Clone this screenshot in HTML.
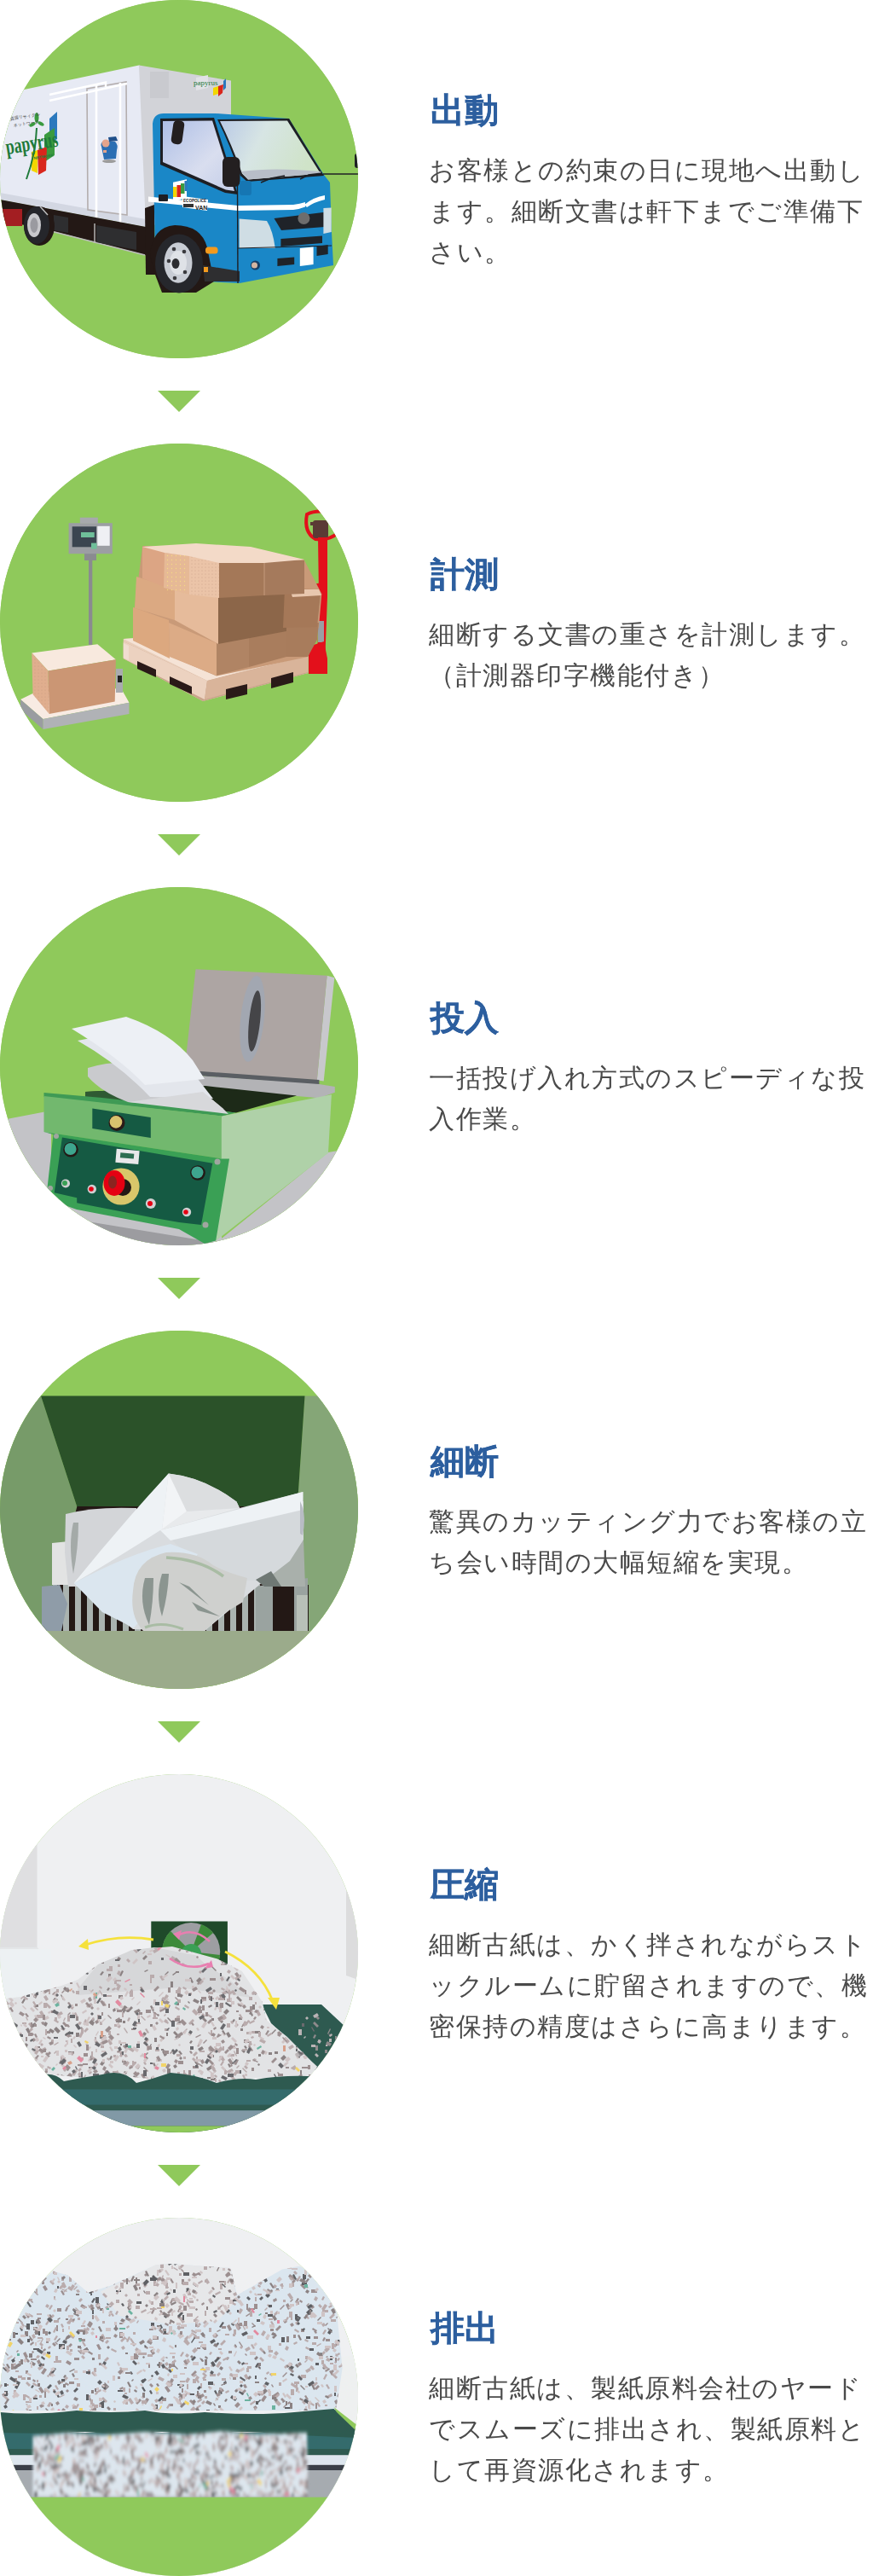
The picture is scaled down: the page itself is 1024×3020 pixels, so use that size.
<!DOCTYPE html>
<html lang="ja"><head><meta charset="utf-8">
<style>
html,body{margin:0;padding:0;background:#fff}
body{width:1024px;height:3020px;position:relative;overflow:hidden;font-family:"Liberation Sans",sans-serif}
.step{position:absolute;left:0;width:1024px;height:420px}
.circ{position:absolute;left:0;top:0;width:420px;height:420px;border-radius:50%;overflow:hidden;background:#8fc95b}
.circ svg{display:block}
.txt{position:absolute;left:505px;top:2px;-webkit-font-smoothing:antialiased;will-change:transform;height:420px;width:519px;display:flex;flex-direction:column;justify-content:center}
.txt h2{margin:0 0 23px;font-size:40px;line-height:48px;color:#2d5f9f;font-weight:bold;-webkit-text-stroke:0.3px #2d5f9f}
.txt p{margin:0 0 0 -2px;font-size:30px;line-height:48px;color:#4a4a4a;letter-spacing:1.5px}
.tri{position:absolute;left:185px;width:0;height:0;border-left:25px solid transparent;border-right:25px solid transparent;border-top:25px solid #8fc95b}
</style></head><body>

<div class="step" style="top:0">
<div class="circ" id="c1"><svg width="420" height="420" viewBox="0 0 420 420">
<defs>
<linearGradient id="ws" x1="0" y1="0" x2="1" y2="0.3"><stop offset="0" stop-color="#b9c9e6"/><stop offset="0.45" stop-color="#d7e5e4"/><stop offset="1" stop-color="#cfe3c8"/></linearGradient>
<linearGradient id="sw" x1="0" y1="0" x2="1" y2="1"><stop offset="0" stop-color="#aebfe6"/><stop offset="0.6" stop-color="#d9deef"/><stop offset="1" stop-color="#c3cde8"/></linearGradient>
</defs>
<rect width="420" height="420" fill="#8fc95b"/>
<!-- cargo side face -->
<polygon points="0,111 163,76.5 171,80 171,266 0,234" fill="#e7eaf4"/>
<polygon points="0,226 171,257 171,266 0,234" fill="#d3d7e2"/>
<!-- cargo front face -->
<polygon points="163,76.5 271,94.5 271,262 171,264" fill="#d2d3d8"/>
<rect x="176" y="84" width="22" height="31" fill="#c9cacf"/>
<!-- door outline + rails -->
<polygon points="102,104 148,96 149,252 103,246" fill="none" stroke="#b4aeae" stroke-width="1.6"/>
<line x1="113" y1="100" x2="113" y2="262" stroke="#fff" stroke-width="2.6"/>
<line x1="141" y1="97" x2="141" y2="266" stroke="#fff" stroke-width="2.6"/>
<polyline points="58,111 124,96.5 124,102" fill="none" stroke="#fff" stroke-width="2.4"/>
<line x1="58" y1="118" x2="149" y2="98" stroke="#fff" stroke-width="2.4"/>
<!-- logo side -->
<polygon points="58,139 67,131 67,163 58,168" fill="#2b78bd"/>
<polygon points="52,158 64,150 64,182 52,190" fill="#3a9a3f"/>
<polygon points="37,178 44,176 44,203 37,200" fill="#f2d600"/>
<polygon points="44,176 55,172 54,200 45,205" fill="#d9261c"/>
<text x="0" y="0" font-family="Liberation Serif,serif" font-size="26" font-weight="bold" fill="#1f7a3a" transform="translate(8 181) rotate(-9) scale(0.68 1)">papyrus</text>
<path d="M43,150 Q42,180 31,210" stroke="#1f7a3a" stroke-width="2" fill="none"/>
<ellipse cx="43" cy="138" rx="2.5" ry="6" fill="#3a9a3f"/>
<ellipse cx="38" cy="146" rx="4" ry="2" fill="#3a9a3f" transform="rotate(-30 38 146)"/>
<ellipse cx="48" cy="145" rx="4" ry="2" fill="#3a9a3f" transform="rotate(30 48 145)"/>
<text x="12" y="141" font-family="Liberation Sans,sans-serif" font-size="5" fill="#3a3a3a" transform="rotate(-9 12 141)">資源リサイクル</text>
<text x="16" y="149" font-family="Liberation Sans,sans-serif" font-size="5" fill="#3a3a3a" transform="rotate(-9 16 149)">ネットワーク</text>
<text x="40" y="187" font-family="Liberation Sans,sans-serif" font-size="4.5" font-weight="bold" fill="#1f7a3a" transform="rotate(-9 40 187)">NETWORK</text>
<!-- mascot -->
<ellipse cx="128" cy="189" rx="8" ry="2" fill="#9c9c9c"/>
<path d="M119,172 Q117,168 122,165 L135,166 Q139,170 137,176 L136,186 L122,187 Z" fill="#2a6eb3"/>
<circle cx="124" cy="168" r="4.5" fill="#e3a48c"/>
<path d="M127,161 L136,160 L138,165 L128,166 Z" fill="#1f4f8a"/>
<rect x="121" y="176" width="4" height="3" fill="#e3a48c"/>
<!-- front logo -->
<polygon points="230,91 244,88 244,103 230,106" fill="#e1e2e6"/>
<text x="227" y="100" font-family="Liberation Serif,serif" font-size="9" fill="#237a3c">papyrus</text>
<polygon points="250,103 256,101 256,110 250,112" fill="#f2d600"/>
<polygon points="256,101 262,99 261,109 256,113" fill="#d9261c"/>
<polygon points="262,95 265,92 265,103 262,106" fill="#2b78bd"/>
<!-- chassis -->
<polygon points="0,234 171,266 171,299 62,271 0,258" fill="#231815"/>
<polyline points="62,271.5 170,299" fill="none" stroke="#bdbdbd" stroke-width="1.4"/>
<line x1="111" y1="262" x2="111" y2="285" stroke="#bdbdbd" stroke-width="1.4"/>
<polygon points="113,264 160,272 160,293 113,284" fill="#2e2e30"/>
<polygon points="63,252 80,255 80,273 63,270" fill="#2e2e30"/>
<rect x="3" y="245" width="23" height="20" fill="#a31e22"/>
<!-- rear wheel -->
<ellipse cx="46" cy="265" rx="18" ry="23" fill="#231815"/>
<ellipse cx="43" cy="264" rx="15" ry="22" fill="#25262b"/>
<ellipse cx="40" cy="264" rx="8" ry="14" fill="#c8c8cc"/>
<ellipse cx="40" cy="264" rx="4.5" ry="9" fill="#9a9aa0"/>
<line x1="47" y1="242" x2="56" y2="252" stroke="#bdbdbd" stroke-width="1.5"/>
<!-- cab left dark strip -->
<polygon points="170,244 181,240 182,322 171,322" fill="#231815"/>
<!-- cab body -->
<path d="M179,145 Q180,133 192,133 L253,133 L339,139 L380,205 L387,214 L389,272 L391,311 L281,332 L240,330 L238,311 L182,300 Z" fill="#1a87c7"/>
<!-- wheel arch -->
<path d="M176,300 Q178,266 205,264 Q236,264 243,290 L251,330 L230,343 L190,343 L182,322 Z" fill="#231815"/>
<!-- step -->
<polygon points="238,311 281,318 281,330 240,330" fill="#2e2e30"/>
<!-- windshield frame & glass -->
<path d="M255,140 L339,139 L380,206 L290,213 L282,206 Q270,170 255,140 Z" fill="#1e1f24"/>
<path d="M258,142 L337,141.5 L376,203.5 L291,210.5 L284,203.5 Q272,170 258,142 Z" fill="url(#ws)"/>
<path d="M283,201 Q320,196 376,201 L377,203.5 L291,210.5 Z" fill="#b8bec8"/>
<!-- side window -->
<polygon points="188,139 251,138 279,228 264,226 188,193" fill="#1e1f24"/>
<polygon points="191,142 249,141.5 275,224 265,222.5 191,190" fill="url(#sw)"/>
<!-- small mirror -->
<rect x="202" y="141" width="13" height="28" rx="5" fill="#231f20" transform="rotate(8 208 155)"/>
<!-- side mirror -->
<rect x="261" y="184" width="20.5" height="35" rx="6" fill="#231f20"/>
<rect x="281" y="212" width="14" height="17" rx="3" fill="#1676b3"/>
<!-- wipers -->
<polyline points="306,214 318,209 334,206" fill="none" stroke="#1e1f24" stroke-width="1.6"/>
<polyline points="352,210 362,205 378,203" fill="none" stroke="#1e1f24" stroke-width="1.6"/>
<!-- white stripe -->
<path d="M174,230.5 L279,241 L344,240 Q352,239 358,237 L358,242.5 Q352,245 344,246 L279,247 L174,236.5 Z" fill="#fff"/>
<path d="M357,240 Q368,231 381,229 L381,234 Q368,237 360,243 Z" fill="#fff"/>
<!-- door logo -->
<rect x="203" y="212" width="16" height="22" fill="#fff" transform="skewY(-12)" transform-origin="211 223"/>
<rect x="203" y="219" width="4.5" height="12" fill="#f2d600"/>
<rect x="207.5" y="217" width="4.5" height="14" fill="#d9261c"/>
<rect x="212" y="215" width="4.5" height="12" fill="#3a9a3f"/>
<rect x="216.5" y="212" width="3" height="12" fill="#2b78bd"/>
<polygon points="214,230 244,234 243,247 214,243" fill="#fff"/>
<text x="215" y="237" font-family="Liberation Sans,sans-serif" font-size="4.6" font-weight="bold" fill="#222">ECOPOLICE</text>
<rect x="215" y="239" width="12" height="4" fill="#333"/>
<text x="229" y="246" font-family="Liberation Sans,sans-serif" font-size="7" font-weight="bold" fill="#222">VAN</text>
<rect x="186" y="228" width="11" height="8" rx="1" fill="#1e1f24"/>
<!-- headlight -->
<path d="M280.6,256.6 L313,259 Q320,270 322.8,291 L280.6,291 Z" fill="#cfdde4"/>
<!-- grille -->
<polygon points="321.5,256 381,248.7 380.7,266 330,270" fill="#1f2329"/>
<polygon points="329.4,280 378,276.4 378,285 329.4,289" fill="#1f2329"/>
<circle cx="356.4" cy="256" r="7" fill="#6d6d6d"/>
<polygon points="379.4,244 388.7,243.5 388.7,272 379.4,274" fill="#cfdde4"/>
<line x1="279" y1="291" x2="389" y2="288" stroke="#1e1f24" stroke-width="1.2"/>
<!-- bumper details -->
<polygon points="351.8,291 367.6,289.6 367.6,310 351.8,312" fill="#fff"/>
<polygon points="325.4,303 345.2,301.4 345.2,310 325.4,312" fill="#1f2329"/>
<polygon points="371.5,289 384.7,287 384.7,298 371.5,300" fill="#1f2329"/>
<circle cx="299.5" cy="311" r="5.5" fill="#173f66"/>
<circle cx="298.5" cy="311" r="3.5" fill="#d4b6a2"/>
<rect x="241" y="289.6" width="14.6" height="7.9" rx="3.5" fill="#f39a1e"/>
<rect x="239" y="313" width="5" height="6" fill="#f39a1e"/>
<line x1="278.5" y1="214" x2="279" y2="332" stroke="#1e1f24" stroke-width="1.4"/>
<!-- front wheel -->
<ellipse cx="210" cy="309" rx="28" ry="34.5" fill="#26272c"/>
<ellipse cx="209" cy="308" rx="16.5" ry="23.7" fill="#c8ccd4"/>
<ellipse cx="209" cy="308" rx="10" ry="14" fill="#dfe2e7"/>
<ellipse cx="206" cy="309" rx="4.5" ry="6" fill="#2c2c30"/>
<circle cx="204" cy="292" r="2.3" fill="#3a3a3e"/>
<circle cx="216" cy="295" r="2.3" fill="#3a3a3e"/>
<circle cx="198" cy="306" r="2.3" fill="#3a3a3e"/>
<circle cx="217" cy="319" r="2.3" fill="#3a3a3e"/>
<circle cx="205" cy="326" r="2.3" fill="#3a3a3e"/>
<!-- mirror arm -->
<line x1="379" y1="204" x2="420" y2="204" stroke="#1e1f24" stroke-width="1.6"/>
<rect x="416" y="180" width="8" height="17" rx="3" fill="#1e1f24"/>
</svg></div>
<div class="txt"><h2>出動</h2><p>お客様との約束の日に現地へ出動します。細断文書は軒下までご準備下さい。</p></div>
</div>
<div class="tri" style="top:458px"></div>

<div class="step" style="top:520px">
<div class="circ" id="c2"><svg width="420" height="420" viewBox="0 0 420 420">
<defs>
<pattern id="dots" width="4" height="4" patternUnits="userSpaceOnUse"><circle cx="1" cy="1" r="0.6" fill="#b98e74" opacity="0.6"/></pattern>
<pattern id="ydots" width="5" height="5" patternUnits="userSpaceOnUse"><circle cx="1.5" cy="1.5" r="0.7" fill="#f7e27e" opacity="0.8"/></pattern>
</defs>
<rect width="420" height="420" fill="#8fc95b"/>
<!-- red pallet jack -->
<path d="M360,83 Q374,76 392,83 Q400,92 396,105 Q386,114 370,112 Q356,104 360,83 Z" fill="none" stroke="#e3101b" stroke-width="4"/>
<rect x="367" y="90" width="18" height="21" rx="3" fill="#5a3a35"/>
<rect x="364" y="92" width="8" height="4" fill="#5a3a35"/>
<polygon points="373,110 384,110 384,180 381,260 372,260 374,180" fill="#e3101b"/>
<polygon points="356,167 378,163 378,176 356,180" fill="#e3101b"/>
<rect x="373" y="208" width="7" height="25" fill="#9a9ea3"/>
<polygon points="362,238 380,232 384,252 384,270 362,270" fill="#e3101b"/>
<!-- pallet -->
<polygon points="144.8,229 256,222 361.3,246 361.3,269 238,302 144.8,252" fill="#e8cdb9"/>
<polygon points="144.8,232 243,278 361.3,249 361.3,269 238,302 144.8,252" fill="#c9a48c"/>
<polygon points="144.8,229 256,222 361.3,246 243,278" fill="#f5e3d6"/>
<polygon points="144.8,232 243,278 240,300 144.8,252" fill="#ecd2c0"/>
<polygon points="243,278 361.3,249 361.3,268 240,300" fill="#d9b49a"/>
<polygon points="144.8,234 151,237 151,254 144.8,251" fill="#f1ddd0"/>
<polygon points="161,255 183,265 183,274 161,264" fill="#2a1a18"/>
<polygon points="199,273 225,285 225,294 199,282" fill="#2a1a18"/>
<polygon points="265,288 290,282 290,294 265,300" fill="#2a1a18"/>
<polygon points="318,275 344,268 344,280 318,287" fill="#2a1a18"/>
<polygon points="167.3,120 294,121.7 356.5,136 377.3,176.2 374,214.7 361.3,250 253.9,272.4 156,230.7 157.6,193.9" fill="#c99a78"/>
<!-- boxes: bottom row -->
<polygon points="156,192 198,207 199,252 156,231" fill="#dca87f"/>
<polygon points="198,210 254,234 254,272 199,250" fill="#dcab86"/>
<polygon points="254,234 292,225 292,262 254,272" fill="#b08464"/>
<polygon points="292,225 336,215 336,250 292,262" fill="#a97d5d"/>
<polygon points="336,215 374,210 372,230 361,250 336,250" fill="#a87c5c"/>
<!-- middle row -->
<polygon points="160,156 205,170 205,207 158,193" fill="#dba982"/>
<polygon points="205,170 256,180 256,235 205,207" fill="#e6bb9b"/>
<polygon points="256,180 336,165 336,220 256,235" fill="#8c6649"/>
<polygon points="334,170 368,171 376,176 372,215 332,216" fill="#a57858"/>
<polygon points="340,171 374,171 377,178 343,180" fill="#e8c7ae"/>
<!-- top row -->
<polygon points="167,121 195,120 193,168 167,158" fill="#dca584"/>
<polygon points="193,128 222,131 222,177 192,169" fill="#e6b996"/>
<rect x="193" y="130" width="28" height="46" fill="url(#ydots)"/>
<polygon points="222,131 257,139 257,181 222,177" fill="#ebc4a8"/>
<polygon points="222,131 257,139 257,181 222,177" fill="url(#dots)"/>
<polygon points="257,139 310,137 310,178 257,181" fill="#a47858"/>
<polygon points="310,137 357,137 357,176 310,178" fill="#a57a5c"/>
<polygon points="167,121 230,117 294,121 357,136 310,140 257,140 222,132 193,128" fill="#f3dac8"/>
<line x1="310" y1="140" x2="310" y2="178" stroke="#c59a7c" stroke-width="1"/>
<!-- scale -->
<polygon points="24,300 41,291.7 142,287 151.5,303.7 50.5,323" fill="#f8ebe3"/>
<polygon points="24,300 50.5,323 50.5,335 24,312" fill="#9a9ca1"/>
<polygon points="50.5,323 151.5,303.7 151.5,317 50.5,335" fill="#b0b2b6"/>
<rect x="136" y="264" width="8" height="28" fill="#a9abaf"/>
<rect x="138" y="272" width="5" height="8" fill="#222"/>
<rect x="104" y="136" width="4.3" height="100" fill="#8a8b90"/>
<rect x="99" y="129" width="14" height="8" fill="#8a8b90"/>
<rect x="80.6" y="93.2" width="51.2" height="36" fill="#9c9ea3"/>
<rect x="93.8" y="86.7" width="21" height="7" fill="#a7a9ad"/>
<rect x="84.7" y="97.3" width="28.3" height="24" fill="#3b4550"/>
<rect x="114.3" y="96.8" width="14.4" height="23" fill="#eff0f4"/>
<rect x="95" y="104" width="15.7" height="6" fill="#6fbf9a"/>
<rect x="107" y="116.6" width="6.5" height="7" fill="#6fbf9a"/>
<!-- small box -->
<polygon points="37.3,245.5 114.3,235.2 135.9,253.2 56.5,266.4" fill="#f8e9de"/>
<polygon points="56.5,266.4 135.9,253.2 134.7,302.5 57.7,317" fill="#cb9674"/>
<polygon points="37.3,245.5 56.5,266.4 57.7,317 38.5,294" fill="#e0ae8e"/>
<polygon points="37.3,245.5 56.5,266.4 57.7,317 38.5,294" fill="url(#dots)"/>
</svg></div>
<div class="txt"><h2>計測</h2><p>細断する文書の重さを計測します。（計測器印字機能付き）</p></div>
</div>
<div class="tri" style="top:978px"></div>

<div class="step" style="top:1040px">
<div class="circ" id="c3"><svg width="420" height="420" viewBox="0 0 420 420">
<rect width="420" height="420" fill="#8fc95b"/>
<!-- floor left -->
<polygon points="0,273.4 60,262 60,420 0,420" fill="#c3c3c7"/>
<!-- floor right / bottom -->
<polygon points="250,420 385,311 420,305 420,420" fill="#c3c3c7"/>
<polygon points="40,355 260,400 260,420 40,420" fill="#c3c3c7"/>
<polygon points="60,385 260,418 260,420 60,420" fill="#9c9ca0"/>
<!-- lid -->
<polygon points="383.6,103.7 392.3,106.3 379.7,227.5 371.8,226.2" fill="#c8c8cc"/>
<polygon points="229.5,96.3 383.6,103.7 371.8,226.2 216.3,215.7" fill="#ada5a3"/>
<ellipse cx="296" cy="154.4" rx="13.8" ry="50.7" fill="#a2a7b1" transform="rotate(6 296 154.4)"/>
<ellipse cx="298.6" cy="157" rx="6.5" ry="36" fill="#454548" transform="rotate(6 298.6 157)"/>
<polygon points="229,215.5 374.4,226 374.4,232 231,221" fill="#5a5e63"/>
<polygon points="231,221 374.4,231 392.8,234 392.8,240.7 374.4,247.3 232,235" fill="#b3b3b6"/>
<!-- dark interior -->
<polygon points="100,240 241,233 348,244.6 276.9,264.4 100,246" fill="#1d2a18"/>
<polygon points="100,240 180,236 200,255 100,246" fill="#2f5a33"/>
<!-- right face -->
<polygon points="259.8,268.4 388.9,243.3 385,311.8 253.2,414.6" fill="#afd1a8"/>
<!-- front band -->
<polygon points="51.5,241 120,247 276.9,264.4 259.8,268.4 51.5,246" fill="#3f9a55"/>
<polygon points="51.5,245 259.8,268.4 259.8,318.4 51.5,287" fill="#72b86e"/>
<polygon points="108.3,259.6 176.8,270 176.8,294 108.3,283" fill="#155a43"/>
<circle cx="137" cy="276.4" r="9.5" fill="#2a1a18"/>
<circle cx="136" cy="275.4" r="7.3" fill="#d9c26e"/>
<!-- paper -->
<path d="M103,212 Q130,204 158,206 L238,240 L262,260 L150,252 Q118,240 103,222 Z" fill="#c9cacd"/>
<path d="M91,180 Q130,172 160,168 Q205,185 232,225 L250,248 L176,246 Q140,208 91,180 Z" fill="#e3e6ec"/>
<path d="M84,166 L148,152 Q200,170 226,203 L240,225 L170,232 Q140,200 84,166 Z" fill="#edf0f5"/>
<path d="M150,252 L238,240 L262,260 L268,266 Z" fill="#d7d8db"/>
<!-- lower panel -->
<polygon points="51.5,287 259.8,318.4 269,318.4 253.2,414.6 240,418 210,401 90,378 62,368 55,357 62.5,290" fill="#3aa055"/>
<polygon points="72.9,293.6 249.3,323.7 236,396 210,393 182.8,388.3 90.2,370.3 90.2,364.2 63.7,358.2" fill="#155a43"/>
<circle cx="83" cy="307.7" r="8.8" fill="#231815"/>
<circle cx="82.6" cy="307" r="7" fill="#3ea58e"/>
<rect x="136" y="308" width="27" height="16" fill="#e8e8ea" transform="rotate(5 150 316)"/>
<rect x="141" y="312" width="16" height="6" fill="#2d6e52" transform="rotate(5 150 316)"/>
<circle cx="142" cy="351" r="21.6" fill="#d8c66a"/>
<circle cx="144" cy="352" r="10" fill="#231815"/>
<ellipse cx="134" cy="347" rx="12.5" ry="15" fill="#e50012"/>
<ellipse cx="132" cy="346" rx="5" ry="7.5" fill="#8b2420"/>
<circle cx="77" cy="347.4" r="5" fill="#d0d0d2"/>
<circle cx="76" cy="347" r="3" fill="#3aa055"/>
<circle cx="107.8" cy="354" r="5.2" fill="#d0d0d2"/>
<circle cx="107" cy="354" r="2.8" fill="#e50012"/>
<circle cx="176.8" cy="371" r="6" fill="#d0d0d2"/>
<circle cx="176" cy="371" r="3" fill="#e50012"/>
<circle cx="232" cy="335" r="8.8" fill="#231815"/>
<circle cx="231.5" cy="334.5" r="7" fill="#3ea58e"/>
<circle cx="219" cy="381" r="5.2" fill="#d0d0d2"/>
<circle cx="218" cy="381" r="2.8" fill="#e50012"/>
<circle cx="255" cy="322" r="3.5" fill="#a0a6a0"/>
<circle cx="241" cy="396" r="3.5" fill="#a0a6a0"/>
<circle cx="59" cy="353" r="3" fill="#a0a6a0"/>
<circle cx="66" cy="292" r="3" fill="#a0a6a0"/>
</svg></div>
<div class="txt"><h2>投入</h2><p>一括投げ入れ方式のスピーディな投入作業。</p></div>
</div>
<div class="tri" style="top:1498px"></div>

<div class="step" style="top:1560px">
<div class="circ" id="c4"><svg width="420" height="420" viewBox="0 0 420 420">
<defs>
<pattern id="blades" width="14" height="60" patternUnits="userSpaceOnUse"><rect width="14" height="60" fill="#231815"/><rect x="4" width="7" height="60" fill="#aab3b0"/></pattern>
</defs>
<rect width="420" height="420" fill="#8fc95b"/>
<!-- walls -->
<polygon points="0,76.5 48,76.5 90.5,207 49,352 0,352" fill="#779b69"/>
<polygon points="357.5,76.5 420,76.5 420,352 360,352 350,188" fill="#85a677"/>
<polygon points="48,76.5 357.5,76.5 350,188 349,207 90.5,207" fill="#2b5229"/>
<!-- interior -->
<polygon points="90.5,206 351,206 361,352 49,352" fill="#231815"/>
<rect x="62" y="298" width="300" height="54" fill="url(#blades)"/>
<polygon points="300,300 361,290 361,352 300,352" fill="#9aa3a0"/>
<polygon points="320,300 345,296 345,352 320,352" fill="#231815"/>
<rect x="348" y="310" width="13" height="42" fill="#b8c0b8"/>
<polygon points="49,300 70,298 79,320 72,352 49,352" fill="#8f9ca8"/>
<!-- floor -->
<rect x="0" y="352" width="420" height="68" fill="#9bab8b"/>
<!-- crumpled left block -->
<polygon points="61,249 81,247 81,298 61,298" fill="#e2e3e3"/>
<path d="M77,215 Q110,206 160,208 L165,300 L80,300 L76,260 Z" fill="#d3d5d8"/>
<path d="M86,225 Q80,250 86,285 Q92,255 92,225 Z" fill="#a4aaa8"/>
<!-- paper base -->
<path d="M86.7,296 L197.7,167.5 Q240,172 277.5,200.6 L281,208 L355.4,189 L356,245 L340,280 L309,294 L240,352 L156,350 Z" fill="#d9dcdf"/>
<!-- right gray region -->
<path d="M190,235 L356,200 L356,245 L340,280 L309,294 L250,290 Z" fill="#d5d9dc"/>
<path d="M309,294 L340,270 L356,245 L358,300 L330,300 Z" fill="#a9b0ab"/>
<polygon points="300,292 318,282 330,300 310,300" fill="#6f7874"/>
<!-- white band -->
<path d="M188,234 L355.4,189 L355,210 L200,246 Z" fill="#eef2f5"/>
<path d="M352,200 Q360,215 355,240 L352,238 Z" fill="#b8bcc4"/>
<!-- main sheet -->
<path d="M197.7,167.5 L190,233.7 L188,234 Q140,265 86.7,296 Q140,230 197.7,167.5 Z" fill="#eef2f5"/>
<path d="M197.7,167.5 Q240,172 277.5,200.6 L281,208 L219,212 Z" fill="#dcdee0"/>
<path d="M197.7,167.5 L219,212 L190,233.7 Z" fill="#f2f4f6"/>
<path d="M219,212 L281,208 L188,234 Z" fill="#e8eaec"/>
<path d="M86.7,296 Q150,262 200,250 L232,262 L200,300 L156.8,348.6 L120,330 Z" fill="#dbe6ef"/>
<!-- crumpled gray ball -->
<path d="M156,305 Q158,268 195,260 Q230,258 250,275 Q262,282 290,290 L285,318 L262,332 L240,352 L168,352 Q152,335 156,305 Z" fill="#cfd0ce"/>
<path d="M170,290 Q162,318 175,345 Q180,318 180,290 Z" fill="#8b9590"/>
<path d="M190,285 Q182,310 190,335 Q197,310 198,285 Z" fill="#8b9590"/>
<path d="M210,295 L245,322 L222,300 Z" fill="#8b9590"/>
<path d="M225,318 L258,335 L232,328 Z" fill="#8b9590"/>
<path d="M195,266 Q235,268 262,288" stroke="#a9bca4" stroke-width="3.5" fill="none"/>
<path d="M170,348 Q190,340 215,350" stroke="#a9bca4" stroke-width="3" fill="none"/>
</svg></div>
<div class="txt"><h2>細断</h2><p>驚異のカッティング力でお客様の立ち会い時間の大幅短縮を実現。</p></div>
</div>
<div class="tri" style="top:2018px"></div>

<div class="step" style="top:2080px">
<div class="circ" id="c5"><svg width="420" height="420" viewBox="0 0 420 420">
<defs><clipPath id="p5"><polygon points="0,264 24,261 72,248 91,241 115,223 144.3,211.6 154,206 202,202 255,216.5 283.8,230.9 307.8,267 312.6,288.6 336.7,307.8 365.6,336.7 380,350 372,356 340,360 300,356 260,362 220,355 180,358 140,353 100,356 60,352 0,354"/></clipPath></defs>
<rect width="420" height="420" fill="#eff0f2"/>
<polygon points="0,79 43.5,79 43.5,203 57,216 0,216" fill="#dfdfe1"/>
<polygon points="0,203 43.5,203 57,216 0,216" fill="#e4e6e8"/>
<rect x="0" y="205" width="60" height="60" fill="#edf1f3"/>
<polygon points="406,137 420,137 420,241 406,236" fill="#dcdcdd"/>
<!-- right chute -->
<polygon points="307,270 377,270 406,297 406,350 372,350 340,312 318,292" fill="#2e5a50"/>
<!-- box with rotor -->
<rect x="177.3" y="172.5" width="89.6" height="66" fill="#1f4a2a"/>
<circle cx="224.2" cy="208.1" r="34" fill="#9d9ea2"/>
<path d="M224.2,208.1 L190.2,208.1 A34,34 0 0 1 200,184 Z" fill="#3d8a3a"/>
<path d="M224.2,208.1 L236,176 A34,34 0 0 1 250,186 Z" fill="#3d8a3a"/>
<path d="M224.2,208.1 L258,212 A34,34 0 0 1 250,232 Z" fill="#3d8a3a"/>
<circle cx="224.2" cy="211" r="12" fill="#3aa055"/>
<path d="M207,190 Q226,178 246,196" stroke="#e87fb0" stroke-width="2.5" fill="none"/>
<polygon points="203,187 213,183 210,194" fill="#e87fb0"/>
<!-- pile -->
<polygon points="0,264 24,261 72,248 91,241 115,223 144.3,211.6 154,206 202,202 255,216.5 283.8,230.9 307.8,267 312.6,288.6 336.7,307.8 365.6,336.7 380,350 372,356 340,360 300,356 260,362 220,355 180,358 140,353 100,356 60,352 0,354" fill="#e2e3e5"/>
<polygon points="91,252 115,223 154,206.5 181,203 230,212.6 240,222 266,239 295,262 210,250 91,259" fill="#d6d7d9"/>
<g clip-path="url(#p5)">
<path fill="#8b8283" d="M237 319l2 3l-5 3l-2 -3zM205 308l5 -3l2 3l-5 3zM35 255l4 -2l2 3l-4 2zM41 270h4v3h-4zM187 359h4v7h-4zM181 309h3v5h-3zM271 222h3v3h-3zM57 301l2 -3l5 3l-2 3zM246 329h5v3h-5zM169 302l3 2l-2 3l-3 -2zM168 331l2 -2l4 4l-2 2zM12 292l2 1l-2 4l-2 -1zM27 321l3 -6l3 2l-3 6zM303 328h3v3h-3zM74 252l2 -3l6 4l-2 3zM296 270h3v6h-3zM127 234h3v7h-3zM167 216l4 -4l2 2l-4 4zM280 285h4v3h-4zM24 248h6v4h-6zM323 299l1 1l-5 5l-1 -1zM277 262l2 -2l5 5l-2 2zM266 275l3 3l-4 4l-3 -3zM224 312l2 1l-2 3l-2 -1zM141 325h4v4h-4zM120 231l2 1l-3 4l-2 -1zM132 276l3 -2l1 3l-3 2zM282 298h3v3h-3zM248 286h3v3h-3zM25 268l3 -5l2 1l-3 5zM111 314l2 -2l5 5l-2 2zM299 301h6v3h-6zM329 333l4 -4l3 3l-4 4zM224 238l3 6l-2 1l-3 -6zM117 306h7v4h-7zM151 360h2v6h-2zM11 335l1 -3l5 3l-1 3zM145 275l3 -3l4 4l-3 3zM320 283h3v4h-3zM202 235l4 -3l1 1l-4 3zM217 350l2 2l-2 2l-2 -2zM174 321l3 -5l1 1l-3 5zM41 291l2 3l-6 4l-2 -3zM109 286l2 2l-5 5l-2 -2zM128 334l2 -4l2 1l-2 4zM146 275l2 1l-3 5l-2 -1zM304 253h4v3h-4zM5 201l2 2l-3 3l-2 -2zM125 253l2 -3l2 1l-2 3zM357 203l3 5l-2 1l-3 -5zM179 339l2 -1l2 4l-2 1zM190 325l3 -2l3 6l-3 2zM212 331l2 2l-2 2l-2 -2zM63 299l3 -3l5 5l-3 3zM169 231l4 -2l1 1l-4 2zM247 356h6v3h-6zM81 351l4 3l-1 2l-4 -3zM136 287h7v4h-7zM80 325h7v3h-7zM206 231h4v2h-4zM89 303h4v5h-4zM211 324l3 4l-2 1l-3 -4zM374 312h2v4h-2zM84 360l3 5l-3 2l-3 -5zM154 272l2 2l-5 5l-2 -2zM286 311h6v4h-6zM189 322h3v2h-3zM260 260h4v5h-4zM315 326h4v3h-4zM226 266l2 -3l6 3l-2 3zM137 290l2 -2l2 2l-2 2zM302 341l1 -2l2 1l-1 2zM178 271l3 6l-2 1l-3 -6zM322 325h4v3h-4zM120 336l3 2l-3 4l-3 -2zM228 337l2 -1l3 5l-2 1zM77 343l4 2l-1 3l-4 -2zM119 218h3v4h-3zM243 355h6v2h-6zM195 303h2v4h-2zM147 348l2 3l-2 1l-2 -3zM115 355l1 -1l2 3l-1 1zM264 255l1 -2l5 3l-1 2zM143 335h3v3h-3zM135 358l2 3l-2 1l-2 -3zM39 261l2 -4l3 2l-2 4zM200 243h3v7h-3zM104 343h5v2h-5zM263 345l4 4l-1 1l-4 -4zM49 250h5v2h-5zM249 225l5 5l-1 1l-5 -5zM76 306l2 -3l2 1l-2 3zM6 349l4 -2l1 1l-4 2zM248 270l1 2l-4 2l-1 -2zM242 345l6 -4l2 3l-6 4zM283 324l2 -2l3 3l-2 2zM139 214l3 2l-2 3l-3 -2zM15 348h4v6h-4zM195 276l3 -6l2 1l-3 6zM196 286l1 -1l5 5l-1 1zM71 259l1 -1l3 6l-1 1zM197 231l1 1l-4 4l-1 -1zM262 300l3 5l-2 1l-3 -5zM258 286l4 4l-2 2l-4 -4zM139 259h5v4h-5zM169 330l4 -4l1 1l-4 4zM298 258l2 -3l2 1l-2 3zM11 282h2v3h-2zM220 267l1 -1l2 2l-1 1zM292 281l3 -5l2 1l-3 5zM107 329l1 1l-2 4l-1 -1zM269 339l2 4l-2 1l-2 -4zM374 331l4 -4l3 3l-4 4zM268 302l3 5l-3 2l-3 -5zM157 278l6 -3l2 3l-6 3zM177 355h3v4h-3zM106 293l2 -4l3 2l-2 4zM207 267h3v4h-3zM63 276h2v3h-2zM352 347h2v6h-2zM53 290l3 2l-2 4l-3 -2zM208 256h3v5h-3zM22 355l1 -2l6 3l-1 2zM146 271l2 1l-4 6l-2 -1zM206 340l2 3l-3 2l-2 -3zM141 315h2v3h-2zM208 357l2 3l-5 3l-2 -3zM185 281l2 1l-1 2l-2 -1zM274 287l2 1l-2 3l-2 -1zM267 212l2 2l-3 3l-2 -2zM71 335l2 1l-2 4l-2 -1zM157 353l3 2l-2 4l-3 -2zM203 303l2 -2l5 5l-2 2zM41 319h6v2h-6zM5 337l3 -5l2 1l-3 5zM369 314l4 6l-2 1l-4 -6zM50 250l2 3l-4 2l-2 -3zM239 285l4 4l-2 2l-4 -4zM64 262l4 2l-2 3l-4 -2zM140 236l3 -6l2 1l-3 6zM212 289l1 2l-5 3l-1 -2zM9 230l4 2l-1 2l-4 -2zM296 280l1 3l-2 1l-1 -3zM144 289h3v3h-3zM159 344l2 -3l3 2l-2 3zM234 238l3 3l-4 4l-3 -3zM209 260l2 -3l4 2l-2 3zM30 299l3 -2l3 5l-3 2zM288 318l2 3l-2 1l-2 -3zM176 293h3v3h-3zM282 211l3 2l-3 5l-3 -2zM196 345h4v6h-4z"/>
<path fill="#b9abac" d="M295 240h4v4h-4zM218 202h3v7h-3zM53 299h2v7h-2zM8 266l3 3l-3 3l-3 -3zM139 293l3 2l-2 3l-3 -2zM12 318h6v2h-6zM238 280l3 3l-2 2l-3 -3zM272 353l5 5l-2 2l-5 -5zM145 298l1 -1l4 6l-1 1zM208 354l3 -2l1 2l-3 2zM251 354l1 -2l3 2l-1 2zM104 350l3 -2l1 2l-3 2zM114 285h3v5h-3zM68 314l1 1l-5 3l-1 -1zM150 216l3 3l-2 2l-3 -3zM111 308h2v4h-2zM202 213l5 3l-2 3l-5 -3zM314 236l2 2l-2 2l-2 -2zM23 312l2 -2l3 3l-2 2zM292 261h4v4h-4zM214 251l1 -2l4 2l-1 2zM290 289h3v2h-3zM102 297l2 2l-4 4l-2 -2zM180 279h3v7h-3zM179 285h6v2h-6zM79 283h3v7h-3zM367 230l3 2l-3 5l-3 -2zM52 283l2 4l-2 1l-2 -4zM244 323l3 -3l3 3l-3 3zM160 356l2 -1l2 4l-2 1zM29 258l1 1l-5 5l-1 -1zM100 287l3 2l-2 4l-3 -2zM238 262h4v4h-4zM247 343l3 -2l3 5l-3 2zM166 283l5 5l-1 1l-5 -5zM38 337l3 -3l2 2l-3 3zM259 252l1 -2l4 2l-1 2zM15 341l1 -2l5 3l-1 2zM303 302h3v6h-3zM112 259l2 3l-3 2l-2 -3zM1 355l2 -2l2 2l-2 2zM247 262h4v2h-4zM282 281l3 5l-2 1l-3 -5zM76 285l1 1l-2 4l-1 -1zM138 223h3v3h-3zM149 289l2 -4l2 1l-2 4zM119 213h3v4h-3zM28 260l5 3l-1 2l-5 -3zM299 267h2v3h-2zM116 254l1 -1l4 6l-1 1zM174 219h4v4h-4zM172 310l3 1l-4 6l-3 -1zM78 306h6v2h-6zM244 281l5 3l-1 2l-5 -3zM341 345l1 -2l4 2l-1 2zM284 322h6v2h-6zM247 300h2v6h-2zM376 254h6v2h-6zM363 295l1 1l-4 4l-1 -1zM16 342l2 4l-3 2l-2 -4zM134 206l2 4l-2 1l-2 -4zM250 339l2 2l-1 1l-2 -2zM98 356l2 -4l1 1l-2 4zM106 255l3 -3l1 1l-3 3zM43 341l1 2l-5 3l-1 -2zM318 303l1 2l-5 3l-1 -2zM331 228l3 -2l2 4l-3 2zM195 258l3 2l-4 6l-3 -2zM145 329l3 -1l2 3l-3 1zM53 320l2 3l-4 2l-2 -3zM266 263h6v4h-6zM244 255h6v3h-6zM372 348h3v3h-3zM136 241h6v2h-6zM235 266l3 -2l1 2l-3 2zM53 345h3v5h-3zM133 329h3v3h-3zM66 324l1 1l-3 3l-1 -1zM63 248h3v3h-3zM208 283h3v5h-3zM207 254l3 -5l3 2l-3 5zM77 312h3v2h-3zM110 341l3 -3l2 2l-3 3zM107 325h2v7h-2zM270 255h5v2h-5zM314 212h2v6h-2zM298 288l1 2l-6 3l-1 -2zM277 344l3 -3l1 1l-3 3zM33 293l2 -2l3 3l-2 2zM208 283l2 1l-3 5l-2 -1zM71 218l5 -5l2 2l-5 5zM338 320l5 -3l2 3l-5 3zM57 252h2v6h-2zM153 320l5 3l-2 3l-5 -3zM253 320l3 2l-3 5l-3 -2zM280 268l2 3l-2 1l-2 -3zM362 312l1 2l-3 2l-1 -2zM343 276h6v2h-6zM214 303l5 -5l1 1l-5 5zM297 255l2 1l-2 3l-2 -1zM244 303l1 -1l4 4l-1 1zM55 344l1 -2l4 2l-1 2zM155 336h2v6h-2zM374 311h3v7h-3zM103 270l4 -2l2 3l-4 2zM237 241l2 2l-4 4l-2 -2zM90 221l6 3l-1 2l-6 -3zM84 352l4 -6l3 2l-4 6zM231 319l3 -5l2 1l-3 5zM43 322l3 2l-3 5l-3 -2zM228 275l5 5l-3 3l-5 -5zM95 298h3v6h-3zM72 278l2 3l-6 3l-2 -3zM304 313l2 -3l6 3l-2 3zM94 344l2 2l-3 3l-2 -2zM155 337h5v2h-5zM321 205l1 -2l6 3l-1 2zM30 285l1 -1l2 4l-1 1zM71 331h3v4h-3zM257 269h3v7h-3zM276 347h7v4h-7zM367 216h2v4h-2zM149 322l2 -4l2 1l-2 4zM348 300h3v5h-3zM275 295l3 -3l2 2l-3 3zM71 237l2 -3l5 3l-2 3zM267 247l3 -3l2 2l-3 3zM180 273l1 1l-3 3l-1 -1zM252 357h2v4h-2zM373 300l2 1l-3 5l-2 -1zM291 317l4 -2l1 2l-4 2zM49 315l2 2l-2 2l-2 -2zM9 271l3 5l-2 1l-3 -5zM250 348l2 -2l2 2l-2 2zM114 351l3 2l-2 3l-3 -2zM132 348h4v6h-4zM75 332h2v7h-2zM135 250l1 2l-4 2l-1 -2zM119 318h2v3h-2zM375 276l4 3l-2 3l-4 -3zM259 222h5v2h-5zM289 335h5v2h-5zM74 347l4 -4l2 2l-4 4zM125 334l1 -2l3 2l-1 2zM129 310l3 6l-3 2l-3 -6zM263 347h3v5h-3zM230 331h2v7h-2zM134 293h3v3h-3zM47 339l2 4l-2 1l-2 -4zM107 288l2 -3l2 1l-2 3zM151 257l3 -5l2 1l-3 5zM92 332h6v3h-6zM261 319h2v5h-2zM96 354l3 2l-2 3l-3 -2zM170 337l2 3l-2 1l-2 -3zM374 290l3 -1l2 3l-3 1zM134 241h3v5h-3zM136 252l3 -6l3 2l-3 6zM193 271h5v4h-5zM91 352l2 -3l3 2l-2 3zM194 281l1 1l-2 2l-1 -1zM287 289l3 2l-3 5l-3 -2zM152 254h4v7h-4zM335 308l5 5l-3 3l-5 -5zM268 258h2v7h-2zM9 286l1 2l-4 2l-1 -2zM170 207l1 1l-3 3l-1 -1zM149 336l3 2l-3 5l-3 -2zM273 360l2 3l-6 3l-2 -3zM329 252l6 -3l2 3l-6 3zM63 258l4 -6l2 1l-4 6zM266 348l6 -3l2 3l-6 3zM158 204l4 4l-2 2l-4 -4zM375 254h2v6h-2zM234 324h6v2h-6zM86 253l2 3l-2 1l-2 -3zM116 250l1 -2l3 2l-1 2zM151 343l2 -2l2 2l-2 2zM343 343l3 -2l2 4l-3 2zM261 336l2 1l-3 5l-2 -1zM163 304l2 -2l5 5l-2 2zM348 263l1 -2l5 3l-1 2zM214 358l2 -2l4 4l-2 2zM158 337l2 2l-5 5l-2 -2zM327 244l3 5l-3 2l-3 -5zM138 325l2 -2l3 3l-2 2zM217 270l5 3l-1 2l-5 -3zM270 290l2 -1l2 3l-2 1zM270 270h2v3h-2zM284 345l1 -1l5 5l-1 1zM122 266l3 5l-2 1l-3 -5zM138 266l5 5l-2 2l-5 -5zM143 279h2v6h-2zM172 318h3v6h-3zM244 332l3 -3l2 2l-3 3zM371 298l2 -2l2 2l-2 2zM295 256l3 -2l2 3l-3 2zM77 354l3 2l-2 4l-3 -2zM143 327l2 2l-3 3l-2 -2zM208 349h3v3h-3zM60 311h3v4h-3zM254 324l5 -5l3 3l-5 5zM270 328h5v3h-5zM179 207l5 -3l2 3l-5 3zM189 264l2 -3l2 1l-2 3zM194 291l1 -2l3 2l-1 2zM51 268h4v6h-4zM227 332l3 3l-2 2l-3 -3zM324 244l4 2l-1 2l-4 -2zM273 352l2 -3l3 2l-2 3zM114 282h3v3h-3zM110 359l3 5l-2 1l-3 -5zM280 236l2 3l-5 3l-2 -3zM215 331h3v3h-3zM152 246h3v2h-3zM233 232l2 -2l2 2l-2 2zM64 287l5 3l-1 2l-5 -3zM206 253h6v4h-6zM187 237l3 -1l3 5l-3 1zM92 352h4v3h-4zM202 288h3v2h-3zM208 264h4v4h-4zM371 293l1 2l-5 3l-1 -2zM286 208l4 -6l3 1l-4 6zM14 355l4 3l-1 2l-4 -3zM180 204l5 -5l2 2l-5 5zM192 290l2 -3l3 2l-2 3zM263 281l3 5l-3 2l-3 -5zM66 268l3 -2l1 3l-3 2zM268 257l6 -3l1 1l-6 3zM292 313h3v5h-3zM137 304h3v2h-3zM119 314l1 1l-4 4l-1 -1zM297 307l1 2l-3 1l-1 -2zM26 291h5v2h-5zM101 224l4 4l-2 2l-4 -4zM288 341l3 3l-2 2l-3 -3zM90 254h3v4h-3zM53 270l2 -2l5 5l-2 2zM258 332l3 -2l3 5l-3 2zM69 283l2 1l-1 2l-2 -1zM204 355l4 -4l2 2l-4 4zM68 351l3 3l-2 2l-3 -3zM259 330l2 4l-2 1l-2 -4zM52 237l2 -3l3 2l-2 3zM122 312l2 3l-5 3l-2 -3zM117 290h3v4h-3zM316 288h2v3h-2zM369 309l3 1l-3 6l-3 -1zM260 256l4 -2l2 3l-4 2zM64 285h3v4h-3zM176 238h2v7h-2zM355 321l5 -3l1 2l-5 3zM266 254l3 -2l3 5l-3 2zM83 310h2v5h-2zM107 334l2 -3l5 3l-2 3zM48 220l3 6l-2 1l-3 -6zM256 262h7v3h-7zM125 228h7v3h-7zM361 293h2v4h-2zM47 326l3 -3l2 2l-3 3zM222 256h3v3h-3zM22 341l4 -2l1 2l-4 2zM271 254l3 -1l3 5l-3 1zM275 324l3 6l-1 1l-3 -6zM170 299l2 -1l3 5l-2 1zM138 245l2 2l-2 2l-2 -2zM73 296l4 2l-2 3l-4 -2zM38 267l2 -1l3 5l-2 1zM257 287l6 -4l2 3l-6 4zM218 352h3v6h-3zM103 270l2 2l-2 2l-2 -2zM125 259h6v2h-6zM88 360l2 2l-3 3l-2 -2zM36 252l5 -3l2 3l-5 3zM353 356l3 3l-1 1l-3 -3zM5 289l2 3l-3 2l-2 -3zM87 280l2 -1l3 6l-2 1zM176 235h5v4h-5zM128 225h4v3h-4zM66 252h3v4h-3zM37 297l2 2l-3 3l-2 -2zM43 282h7v4h-7zM105 359l2 -2l2 2l-2 2zM193 298h5v3h-5zM84 271l3 2l-2 3l-3 -2zM322 356h5v4h-5zM49 277l3 5l-3 2l-3 -5zM89 254h3v4h-3zM226 287l2 2l-5 5l-2 -2zM295 301h4v3h-4zM215 347h2v7h-2zM39 272l1 -1l5 5l-1 1zM213 223l1 -2l5 3l-1 2zM308 265l4 2l-1 2l-4 -2zM158 291h7v2h-7zM256 359l2 -1l2 3l-2 1zM217 350l3 2l-2 4l-3 -2zM8 227l1 2l-2 1l-1 -2zM51 261l3 -2l3 5l-3 2zM266 292h4v5h-4zM314 346h4v3h-4zM289 302h3v3h-3zM207 328h5v3h-5zM112 212h4v7h-4zM298 333l3 1l-2 3l-3 -1zM281 235h2v3h-2zM286 352l3 6l-2 1l-3 -6zM11 221h3v2h-3zM300 278l3 -2l3 6l-3 2zM93 290l3 1l-2 3l-3 -1zM206 272l5 3l-1 2l-5 -3zM230 325l2 2l-4 4l-2 -2zM182 322h5v3h-5zM127 301h3v5h-3zM135 349l3 -2l3 6l-3 2zM137 234l2 -4l3 2l-2 4zM270 318h6v2h-6zM291 288l2 1l-4 6l-2 -1zM258 239l3 -2l2 4l-3 2zM17 259l2 -3l3 2l-2 3zM266 232l2 -3l3 2l-2 3zM95 302l3 1l-3 6l-3 -1zM84 325l3 2l-2 3l-3 -2zM204 354l2 3l-3 2l-2 -3zM118 318h4v3h-4zM112 261l1 2l-3 2l-1 -2zM299 255h7v3h-7z"/>
<path fill="#cfc4c5" d="M25 257l2 -1l2 3l-2 1zM24 327l2 -1l1 2l-2 1zM255 274l5 -5l2 2l-5 5zM133 335l4 -6l3 2l-4 6zM324 245l2 -4l3 2l-2 4zM214 353h4v4h-4zM6 325l2 -2l4 4l-2 2zM251 319h3v2h-3zM135 238l2 2l-3 3l-2 -2zM0 275h3v5h-3zM42 331l3 3l-2 2l-3 -3zM235 346l1 2l-3 2l-1 -2zM35 275l2 -2l4 4l-2 2zM50 286l6 -3l2 3l-6 3zM232 282l3 -5l2 1l-3 5zM255 260l2 2l-3 3l-2 -2zM41 310l3 -2l2 4l-3 2zM217 300l2 1l-2 4l-2 -1zM271 348h2v7h-2zM19 267l1 2l-2 1l-1 -2zM54 330l3 2l-4 6l-3 -2zM74 329l4 6l-3 1l-4 -6zM173 210h5v2h-5zM204 311l5 -3l1 1l-5 3zM249 351l3 -3l1 1l-3 3zM188 286l4 4l-2 2l-4 -4zM251 267h4v3h-4zM298 316l2 1l-1 2l-2 -1zM167 328l1 2l-3 2l-1 -2zM104 284l2 1l-3 6l-2 -1zM349 327l3 5l-3 2l-3 -5zM106 272l2 -1l2 3l-2 1zM287 351h3v3h-3zM230 298l2 -1l2 3l-2 1zM144 334l4 2l-1 2l-4 -2zM105 332l2 1l-2 4l-2 -1zM253 315h6v4h-6zM76 323h3v3h-3zM86 279l3 5l-2 1l-3 -5zM240 238l1 2l-3 2l-1 -2zM129 236l3 3l-5 5l-3 -3zM3 358l3 2l-2 3l-3 -2zM291 359h4v3h-4zM281 359l3 2l-1 2l-3 -2zM34 224l1 -1l4 4l-1 1zM167 327l5 3l-2 3l-5 -3zM40 321h5v3h-5zM261 342l4 4l-2 2l-4 -4zM109 342l3 -3l2 2l-3 3zM87 317l3 3l-1 1l-3 -3zM335 309l2 2l-5 5l-2 -2zM21 355l4 6l-3 2l-4 -6zM247 340l2 -2l3 3l-2 2zM38 324l6 -3l1 2l-6 3zM135 274h4v2h-4zM249 308h5v3h-5zM129 339l4 4l-2 2l-4 -4zM48 342l2 3l-5 3l-2 -3zM187 273h5v4h-5zM11 260l5 5l-2 2l-5 -5zM131 306l1 2l-3 2l-1 -2zM358 329l2 3l-3 2l-2 -3zM140 273l1 -3l4 2l-1 3zM161 313h3v3h-3zM375 264l3 -3l1 1l-3 3zM264 253l2 -3l3 2l-2 3zM293 210h5v2h-5zM147 275l4 -2l1 2l-4 2zM155 221l5 -5l2 2l-5 5zM276 289h2v7h-2zM287 340l2 -3l3 2l-2 3zM246 329h3v4h-3zM259 330l2 1l-3 6l-2 -1zM50 309l1 -1l3 2l-1 1zM180 264h3v6h-3zM292 277h5v2h-5zM4 312l3 -2l3 5l-3 2zM180 353l2 3l-3 2l-2 -3zM251 276l2 -4l2 1l-2 4zM16 338l2 3l-5 3l-2 -3zM72 261l2 -1l3 5l-2 1zM27 330l2 -1l3 5l-2 1zM207 292h5v2h-5zM119 324h5v2h-5zM157 261l1 1l-3 3l-1 -1zM283 267l4 4l-2 2l-4 -4zM335 302h3v4h-3zM229 334h7v3h-7zM206 285l2 1l-3 5l-2 -1zM181 294l3 5l-3 2l-3 -5zM300 212l3 3l-2 2l-3 -3zM25 293l1 2l-1 1l-1 -2zM118 291l5 -5l1 1l-5 5zM304 309l1 -2l5 3l-1 2zM331 251l3 -5l3 2l-3 5zM270 262h2v4h-2zM202 355l2 -1l2 3l-2 1zM291 304l2 -3l3 2l-2 3zM29 292l2 2l-2 2l-2 -2zM274 227l3 -3l4 4l-3 3zM102 323l3 -4l2 1l-3 4zM346 311h4v3h-4zM311 287l5 -5l2 2l-5 5zM272 235l4 4l-2 2l-4 -4zM35 220l3 6l-2 1l-3 -6zM180 344l5 -5l1 1l-5 5zM338 331l3 3l-4 4l-3 -3zM211 316l1 2l-2 1l-1 -2zM243 328h7v4h-7zM329 250h2v4h-2zM342 309l3 -2l2 3l-3 2zM222 302l3 2l-2 3l-3 -2zM24 302l2 2l-5 5l-2 -2zM93 203l2 -1l3 6l-2 1zM224 356l1 -2l3 2l-1 2zM146 250l3 2l-1 2l-3 -2zM60 277l1 2l-4 2l-1 -2zM91 244l3 6l-2 1l-3 -6zM115 273l2 2l-2 2l-2 -2zM205 339l2 -3l2 1l-2 3zM50 256l2 -2l2 2l-2 2zM84 270h2v3h-2zM159 350h2v7h-2zM7 324l3 3l-1 1l-3 -3zM196 234l1 2l-6 4l-1 -2zM170 334l2 1l-1 3l-2 -1zM10 321l3 -3l3 3l-3 3zM195 211l5 3l-1 1l-5 -3zM76 233l1 -1l4 4l-1 1zM305 271l2 2l-2 2l-2 -2zM85 310l2 -3l2 1l-2 3zM232 316l3 -6l3 2l-3 6zM99 263l2 3l-5 3l-2 -3zM2 357l2 1l-3 6l-2 -1zM130 319l3 5l-2 1l-3 -5zM162 339l3 3l-4 4l-3 -3zM40 283l2 -1l4 6l-2 1zM16 270l1 1l-4 4l-1 -1zM332 341l5 -5l2 2l-5 5zM206 298l3 -2l1 3l-3 2zM67 339l1 1l-2 2l-1 -1zM143 260l2 3l-3 2l-2 -3zM113 359h2v4h-2zM244 348l1 -1l6 4l-1 1zM110 264h3v5h-3zM191 255l1 1l-5 5l-1 -1zM100 316l2 -1l1 2l-2 1zM187 312l5 -5l2 2l-5 5zM110 312l1 -2l3 2l-1 2zM257 275h3v4h-3zM210 353l5 3l-1 2l-5 -3zM70 227l1 2l-5 3l-1 -2zM261 303l3 3l-1 1l-3 -3zM284 219h4v2h-4zM134 319h4v3h-4zM372 350l3 -2l2 3l-3 2zM94 339l4 2l-2 3l-4 -2zM219 253l3 3l-3 3l-3 -3zM217 240h7v3h-7zM186 316l2 1l-2 4l-2 -1zM266 331l3 -4l3 1l-3 4zM291 310l2 3l-5 3l-2 -3zM168 336l2 -4l3 2l-2 4zM48 311l2 1l-3 5l-2 -1zM134 350h7v2h-7zM29 296l1 -2l2 1l-1 2zM232 254l1 -1l3 3l-1 1zM214 351l3 3l-3 3l-3 -3zM77 316l2 1l-2 3l-2 -1zM29 359h2v5h-2zM271 310l2 -2l5 5l-2 2zM342 245l1 -3l6 3l-1 3zM271 266h4v4h-4zM172 284l4 -2l1 2l-4 2zM10 318l2 3l-5 3l-2 -3zM172 354l5 5l-2 2l-5 -5zM149 254l2 1l-3 6l-2 -1zM105 252l3 3l-1 1l-3 -3zM364 244l2 -1l1 2l-2 1zM141 314h7v2h-7zM234 351l2 -4l3 2l-2 4zM66 263l2 3l-5 3l-2 -3zM38 257l4 4l-1 1l-4 -4zM364 320h7v3h-7zM7 315l4 -6l3 2l-4 6zM48 330h3v2h-3zM139 312h3v4h-3zM67 284l3 -2l2 3l-3 2zM149 348l1 1l-6 4l-1 -1zM102 348l5 -5l2 2l-5 5zM28 201l2 -1l4 6l-2 1zM42 318l3 2l-2 3l-3 -2zM112 322h2v4h-2zM78 312h2v5h-2zM97 293l2 -3l3 2l-2 3zM12 315l2 1l-4 6l-2 -1zM22 356h3v4h-3zM161 281h3v7h-3zM76 227h3v5h-3zM194 264l2 -2l2 2l-2 2zM309 205l2 1l-3 4l-2 -1zM101 288h3v7h-3zM225 248h3v3h-3zM101 276l1 2l-5 3l-1 -2zM129 336h4v3h-4zM127 308l2 -1l3 6l-2 1zM66 324h3v6h-3zM120 334h3v4h-3zM13 266l4 4l-3 3l-4 -4zM247 350h4v7h-4zM71 341l2 -2l3 3l-2 2zM80 326h4v3h-4zM247 291l2 -1l3 5l-2 1zM72 338h4v2h-4zM47 339l5 3l-2 3l-5 -3zM62 258l3 -3l4 4l-3 3zM240 290l3 2l-4 6l-3 -2zM139 291l2 3l-3 2l-2 -3zM271 332l1 -1l2 4l-1 1zM183 334h7v3h-7zM115 301l1 1l-3 5l-1 -1zM355 259l3 -6l3 2l-3 6zM13 329l1 1l-4 4l-1 -1zM193 345l2 3l-3 2l-2 -3zM45 269l4 -3l1 2l-4 3zM27 271l4 4l-1 1l-4 -4zM103 211h4v4h-4zM271 320h6v2h-6zM265 249l1 -1l2 4l-1 1zM309 327l2 -3l3 2l-2 3zM145 326l3 -6l3 1l-3 6zM179 205l1 2l-4 2l-1 -2zM117 285l2 1l-3 5l-2 -1zM112 258l4 -4l2 2l-4 4zM313 296h3v2h-3zM121 212l2 2l-5 5l-2 -2zM142 357l3 2l-2 3l-3 -2zM9 294l1 -2l5 3l-1 2zM77 357h5v2h-5zM157 319l6 4l-2 3l-6 -4zM41 359l4 2l-2 3l-4 -2zM45 350h5v3h-5zM368 279l3 -2l2 4l-3 2zM359 330l2 2l-2 2l-2 -2zM164 266l1 1l-4 4l-1 -1zM123 306l3 3l-5 5l-3 -3z"/>
<path fill="#9c8f90" d="M353 351l2 2l-4 4l-2 -2zM238 315l4 -4l1 1l-4 4zM277 277h3v2h-3zM124 347l3 1l-3 6l-3 -1zM187 277l6 -3l1 2l-6 3zM127 269h2v5h-2zM164 250l2 -1l4 6l-2 1zM91 340h6v2h-6zM120 209l5 5l-1 1l-5 -5zM237 271h3v6h-3zM88 269h3v3h-3zM120 346l2 -4l3 2l-2 4zM255 286l5 -3l2 3l-5 3zM232 338l6 4l-1 1l-6 -4zM366 221l3 -2l2 4l-3 2zM245 260h4v5h-4zM226 291l2 3l-2 1l-2 -3zM256 304l2 1l-2 4l-2 -1zM112 217h7v2h-7zM36 305l2 -2l2 2l-2 2zM51 227l2 3l-5 3l-2 -3zM40 293h3v3h-3zM128 295l3 3l-5 5l-3 -3zM288 276h7v3h-7zM331 309l1 -1l5 5l-1 1zM226 342h7v3h-7zM250 298l3 -2l1 2l-3 2zM13 273l3 5l-2 1l-3 -5zM235 336l3 -2l2 4l-3 2zM55 328l3 -3l2 2l-3 3zM311 305l3 -5l2 1l-3 5zM377 253h3v3h-3zM225 252l5 -3l2 3l-5 3zM55 326l4 4l-2 2l-4 -4zM56 205l3 2l-1 2l-3 -2zM197 339l3 2l-3 5l-3 -2zM169 343l5 5l-1 1l-5 -5zM345 309l1 -2l4 2l-1 2zM362 352h3v4h-3zM280 252l2 -3l6 4l-2 3zM303 213h2v6h-2zM189 267l1 -3l5 3l-1 3zM28 343l6 3l-1 2l-6 -3zM298 279l2 -3l3 1l-2 3zM6 340h3v2h-3zM54 347l2 2l-2 2l-2 -2zM247 287l2 2l-4 4l-2 -2zM271 317l3 3l-4 4l-3 -3zM344 258h7v2h-7zM300 237h5v3h-5zM55 309l1 -2l4 2l-1 2zM40 309l2 3l-3 2l-2 -3zM163 279h4v3h-4zM187 308l1 -2l5 3l-1 2zM101 317h3v7h-3zM276 315l3 2l-1 2l-3 -2zM75 253l1 1l-3 3l-1 -1zM51 353l1 2l-6 3l-1 -2zM202 324l1 1l-3 3l-1 -1zM221 347h3v6h-3zM31 280l3 4l-2 1l-3 -4zM132 359l3 -2l1 1l-3 2zM51 254l5 -3l2 3l-5 3zM18 340l3 2l-1 2l-3 -2zM12 316l5 3l-1 2l-5 -3zM259 305l1 1l-5 3l-1 -1zM263 326l4 -4l2 2l-4 4zM325 303l3 -2l1 2l-3 2zM106 261l2 4l-3 2l-2 -4zM305 297l2 -3l3 2l-2 3zM79 282l3 -3l1 1l-3 3zM79 213l6 -3l2 3l-6 3zM379 349h5v2h-5zM204 337l2 -3l3 2l-2 3zM37 350l3 -3l3 3l-3 3zM182 292l2 -2l2 2l-2 2zM241 279h3v5h-3zM317 282h3v3h-3zM117 266l3 -1l4 6l-3 1zM114 288l2 3l-3 2l-2 -3zM244 262l1 -3l3 2l-1 3zM275 245l2 -2l3 3l-2 2zM47 321l5 3l-2 3l-5 -3zM108 272l2 2l-2 2l-2 -2zM284 272l3 -2l2 3l-3 2zM197 266l1 3l-3 2l-1 -3zM49 214l2 -3l2 1l-2 3zM24 319h3v4h-3zM107 332l2 1l-2 3l-2 -1zM42 285l3 3l-3 3l-3 -3zM205 286h6v4h-6zM343 273h5v3h-5zM32 341h7v3h-7zM98 327h5v4h-5zM183 332l3 -2l3 5l-3 2zM89 284h3v5h-3zM26 212l1 1l-2 2l-1 -1zM192 324h6v4h-6zM159 348l2 2l-3 3l-2 -2zM247 318l5 5l-3 3l-5 -5zM162 349l2 2l-4 4l-2 -2zM158 295l1 -2l2 1l-1 2zM251 252l2 2l-2 2l-2 -2zM145 336h3v2h-3zM80 293l2 3l-2 1l-2 -3zM233 243l2 1l-2 3l-2 -1zM137 276h6v3h-6zM248 304h3v3h-3zM42 304l2 4l-2 1l-2 -4zM287 253h2v5h-2zM278 232l3 4l-3 2l-3 -4zM246 334l5 5l-2 2l-5 -5zM127 357l4 -4l2 2l-4 4zM277 321h3v7h-3zM100 269l2 -2l5 5l-2 2zM78 306l2 -4l3 2l-2 4zM151 344l4 -2l1 2l-4 2zM33 303h5v4h-5zM354 343h7v2h-7zM38 201h6v2h-6zM185 248l2 2l-5 5l-2 -2zM211 290l3 -3l5 5l-3 3zM15 251h3v6h-3zM285 293l1 1l-2 3l-1 -1zM326 351h6v3h-6zM9 228l6 -3l2 3l-6 3zM373 352l3 -2l4 6l-3 2zM280 269l4 2l-1 2l-4 -2zM60 277h5v3h-5zM76 293h3v3h-3zM309 275h7v2h-7zM207 306l6 -4l2 3l-6 4zM325 350l1 -1l3 3l-1 1zM17 351h3v3h-3zM232 276h5v4h-5zM259 219l3 -2l2 3l-3 2zM144 339l4 -2l1 2l-4 2zM246 239h7v3h-7zM262 311l2 3l-3 2l-2 -3zM180 278l6 4l-1 1l-6 -4zM171 276h6v4h-6zM189 340l2 -1l2 3l-2 1zM22 255l2 -2l2 2l-2 2zM73 292l2 -2l3 3l-2 2zM335 343h4v2h-4zM119 279h2v4h-2zM127 308l3 -3l4 4l-3 3zM137 325l3 -2l1 2l-3 2zM21 202l3 -3l5 5l-3 3zM270 333l4 6l-3 2l-4 -6zM79 250l2 1l-3 4l-2 -1zM211 204l2 1l-2 3l-2 -1zM293 272h3v5h-3zM230 214l2 -1l1 2l-2 1zM1 357h7v2h-7zM234 271l3 2l-3 6l-3 -2zM82 350l3 3l-4 4l-3 -3zM343 285l1 2l-2 1l-1 -2zM173 319h5v4h-5zM94 297l2 -1l1 2l-2 1zM97 339h6v2h-6zM30 308h2v5h-2zM154 298h5v2h-5zM82 305l1 2l-3 2l-1 -2zM197 357h5v2h-5zM341 272l3 3l-2 2l-3 -3zM140 285l1 2l-5 3l-1 -2zM55 301h4v3h-4zM165 352l3 -1l3 5l-3 1zM343 300h3v3h-3zM379 355l2 1l-4 6l-2 -1zM79 268l2 -1l3 4l-2 1zM144 319l2 -2l3 3l-2 2zM236 261h6v3h-6zM223 203l4 3l-2 3l-4 -3zM61 313l2 3l-4 2l-2 -3zM194 273l1 2l-3 2l-1 -2zM113 346l2 3l-4 2l-2 -3zM271 359l3 2l-3 5l-3 -2zM206 261l3 3l-1 1l-3 -3zM291 319l2 -1l4 6l-2 1zM36 291h2v6h-2zM82 244h3v2h-3zM306 327l2 -4l3 2l-2 4zM32 326h3v4h-3zM258 268h4v6h-4zM61 258l3 -3l1 1l-3 3zM244 329l5 -5l1 1l-5 5zM38 339h4v3h-4zM229 308l6 -3l1 1l-6 3zM22 281l2 -3l5 3l-2 3zM204 218l3 -3l5 5l-3 3zM44 329l2 1l-3 4l-2 -1zM50 282h3v6h-3zM361 341h3v5h-3zM56 233h4v3h-4zM371 284l2 -2l5 5l-2 2zM70 355l2 -3l4 2l-2 3zM270 341l2 -1l1 2l-2 1zM51 290l2 3l-3 1l-2 -3zM209 336h6v4h-6zM109 223l2 4l-3 2l-2 -4zM295 344h3v4h-3zM197 250h3v6h-3zM51 322h3v4h-3zM277 334l3 1l-3 6l-3 -1zM296 335l1 -1l6 3l-1 1zM194 267l1 -2l4 2l-1 2zM248 306l2 -3l3 2l-2 3zM323 332l2 2l-5 5l-2 -2zM323 241l2 2l-2 2l-2 -2zM76 343l3 -3l4 4l-3 3zM299 284l2 1l-2 3l-2 -1zM257 259l3 -1l1 3l-3 1zM325 306l3 -4l3 2l-3 4zM119 314l6 -3l2 3l-6 3zM127 282l4 4l-1 1l-4 -4zM222 325l2 -1l2 3l-2 1z"/>
<path fill="#e38aa0" d="M305 253l4 -4l1 1l-4 4zM90 333l3 -3l5 5l-3 3zM357 303l2 -2l1 1l-2 2zM183 342l4 2l-2 3l-4 -2zM146 243l6 -3l1 1l-6 3zM138 264l5 5l-3 3l-5 -5zM8 306h2v7h-2zM169 327h2v6h-2zM76 342l2 2l-3 3l-2 -2zM164 257l1 -1l5 5l-1 1zM165 300l3 6l-3 2l-3 -6zM188 201l2 2l-4 4l-2 -2z"/>
<path fill="#6a6a6e" d="M253 267h3v6h-3zM223 300l3 2l-2 3l-3 -2zM364 331l2 -2l4 4l-2 2zM264 269l1 -2l6 4l-1 2zM162 287h2v4h-2zM322 351l3 5l-1 1l-3 -5zM115 283h4v4h-4zM235 264h2v5h-2zM42 254h3v5h-3zM6 330l1 2l-3 2l-1 -2zM160 316h4v5h-4zM1 301l2 -2l2 2l-2 2zM336 231l3 1l-4 6l-3 -1zM159 281l2 -2l2 2l-2 2zM98 248h4v5h-4zM61 279l2 -3l6 3l-2 3zM272 339l5 -5l1 1l-5 5zM135 217h5v2h-5zM281 347h2v4h-2zM358 329l2 -2l2 2l-2 2zM82 270l2 2l-3 3l-2 -2zM247 261h2v5h-2zM156 297h4v2h-4zM88 343l1 -1l2 4l-1 1zM182 267h5v4h-5zM326 341l3 -3l4 4l-3 3zM368 220l1 1l-2 4l-1 -1zM143 325h2v4h-2zM53 356l2 -1l2 4l-2 1zM84 348l3 -2l2 3l-3 2zM201 289h4v7h-4zM69 244h6v3h-6zM169 311l2 -3l3 2l-2 3zM264 218l4 -4l3 3l-4 4zM364 354h5v2h-5zM35 312l3 -2l1 2l-3 2zM147 316h3v4h-3zM33 230l3 6l-2 1l-3 -6zM63 308h5v2h-5zM95 349h2v7h-2zM347 319h2v6h-2zM189 215h3v3h-3zM126 347l3 3l-3 3l-3 -3zM348 268h4v3h-4zM240 338l3 -5l3 2l-3 5zM236 201h3v3h-3zM109 351h7v3h-7zM25 210l3 -3l2 2l-3 3zM141 319l2 4l-3 2l-2 -4zM38 321l4 2l-1 2l-4 -2zM374 252l1 3l-3 2l-1 -3zM108 345l2 -3l3 2l-2 3zM183 320h3v3h-3zM100 234l1 -2l3 1l-1 2zM22 354l1 -2l5 3l-1 2zM170 313l4 4l-2 2l-4 -4zM15 290l6 4l-1 3l-6 -4zM71 295l2 -1l3 5l-2 1zM158 289l3 2l-3 5l-3 -2zM229 341h3v3h-3zM350 265h7v4h-7zM176 338h3v2h-3zM254 323l2 2l-2 2l-2 -2zM223 319h4v4h-4zM70 338l5 -5l3 3l-5 5zM168 347h4v7h-4zM262 292l3 2l-4 6l-3 -2zM21 306l4 -2l1 2l-4 2zM194 275h4v5h-4zM113 314l5 3l-2 3l-5 -3zM33 352l2 -2l4 4l-2 2zM93 313l3 5l-3 2l-3 -5zM94 354l2 4l-2 1l-2 -4zM109 202h3v4h-3zM31 257h4v4h-4zM258 233h2v4h-2zM272 213h4v7h-4zM160 205l4 -3l2 3l-4 3zM289 326l3 -6l3 2l-3 6zM233 356h5v4h-5zM275 253l2 -1l1 2l-2 1zM374 347l2 -2l5 5l-2 2zM91 292l4 6l-3 2l-4 -6zM166 251l3 3l-2 2l-3 -3zM201 324l2 -2l2 2l-2 2zM221 257h3v3h-3zM88 202h5v2h-5zM262 257l3 4l-3 2l-3 -4zM202 327l5 -5l2 2l-5 5zM300 243h3v3h-3zM265 242l3 -5l2 1l-3 5zM108 338l3 -5l3 2l-3 5zM267 351h7v4h-7zM16 321h5v2h-5zM192 359l5 3l-1 2l-5 -3zM82 282h6v4h-6zM247 201h4v2h-4zM371 344l2 -2l5 5l-2 2zM279 239l3 2l-1 2l-3 -2zM243 331l1 -2l4 3l-1 2zM85 359l3 2l-3 6l-3 -2zM320 204l2 -3l3 2l-2 3zM124 325l2 3l-6 4l-2 -3zM238 282l2 3l-5 3l-2 -3zM106 281l2 -2l2 2l-2 2zM214 202l2 3l-2 1l-2 -3zM265 220l2 2l-2 2l-2 -2zM21 305h6v3h-6zM241 226l2 2l-5 5l-2 -2zM82 301l1 2l-6 4l-1 -2zM80 302h6v3h-6zM241 253l6 -4l2 3l-6 4zM121 258h4v3h-4zM10 257h4v3h-4zM117 262l2 1l-4 6l-2 -1zM198 297l1 1l-3 3l-1 -1zM261 353l6 3l-2 3l-6 -3zM19 335l3 3l-2 2l-3 -3zM67 257l2 2l-2 2l-2 -2z"/>
<path fill="#6cb3a0" d="M63 343l2 2l-3 3l-2 -2zM321 293l4 -2l2 3l-4 2zM375 271l5 5l-1 1l-5 -5zM313 275l2 1l-3 5l-2 -1zM150 318h4v3h-4zM64 270l4 -2l2 3l-4 2zM6 324h5v3h-5zM227 352l2 1l-2 3l-2 -1zM112 256h2v7h-2zM207 266l2 2l-3 3l-2 -2zM214 275l1 -2l3 2l-1 2zM306 318l1 2l-5 3l-1 -2z"/>
<path fill="#f1d46a" d="M189 266h2v5h-2zM346 345l2 -2l4 4l-2 2zM31 334h4v3h-4zM100 312l4 2l-1 2l-4 -2zM23 320h4v4h-4zM189 339h6v4h-6zM193 272l2 -3l4 2l-2 3z"/>
<path fill="#d8a08a" d="M337 307l3 -3l2 2l-3 3zM83 336l2 3l-4 2l-2 -3zM332 318h3v7h-3zM81 254l3 -3l1 1l-3 3zM118 301h3v7h-3zM109 259l1 -3l4 2l-1 3z"/>
</g>
<path d="M199,216 Q222,232 245,222" stroke="#e87fb0" stroke-width="2.5" fill="none"/>
<polygon points="248,218 240,228 250,226" fill="#e87fb0"/>
<!-- specks on chute -->
<path fill="#8f8a8c" d="M350 328l5 -3l2 3l-5 3zM393 307h2v4h-2zM370 318h3v6h-3zM350 327h2v4h-2zM386 316l1 1l-3 2l-1 -1zM370 285l2 -2l3 3l-2 2zM369 290l5 5l-2 2l-5 -5zM387 298l1 1l-3 6l-1 -1zM369 305l2 1l-2 4l-2 -1zM373 311h3v4h-3zM382 316l2 -3l5 3l-2 3zM381 323h3v4h-3z"/>
<path fill="#6a6a6e" d="M349 326l1 -2l5 3l-1 2zM354 292h3v4h-3zM366 296l3 5l-1 1l-3 -5zM385 305l2 -1l2 3l-2 1zM349 326l3 6l-1 1l-3 -6z"/>
<path fill="#b9b3b5" d="M365 317h5v3h-5zM356 309l2 -2l1 1l-2 2zM386 310h3v4h-3zM350 299h4v7h-4zM367 283l5 -3l2 3l-5 3zM382 317h2v2h-2zM386 306l3 -2l1 2l-3 2zM372 314l2 -3l3 2l-2 3zM346 328l3 -2l3 4l-3 2zM358 286l2 -2l2 2l-2 2zM347 320h2v2h-2zM369 329l2 -2l3 3l-2 2zM394 317h4v6h-4z"/>
<!-- yellow arrows -->
<path d="M180,194 Q140,187 100,200" stroke="#f5e13c" stroke-width="2.8" fill="none"/>
<polygon points="92,202 103,193 104,206" fill="#f5e13c"/>
<path d="M264,208 Q305,228 320,266" stroke="#f5e13c" stroke-width="2.8" fill="none"/>
<polygon points="324,276 314,262 328,262" fill="#f5e13c"/>
<!-- bottom bands -->
<path d="M0,356 Q20,352 40,356 Q60,346 75,360 Q100,355 120,352 Q145,345 160,362 Q180,357 200,350 Q230,352 254,362 Q280,355 300,358 Q330,353 360,354 L420,354 L420,420 L0,420 Z" fill="#2e5a50"/>
<rect x="0" y="369.5" width="420" height="18.1" fill="#346b6c"/>
<rect x="0" y="394.2" width="420" height="18.2" fill="#8199a6"/>
<rect x="0" y="412.4" width="420" height="8" fill="#8fc95b"/>
</svg></div>
<div class="txt"><h2>圧縮</h2><p>細断古紙は、かく拌されながらストックルームに貯留されますので、機密保持の精度はさらに高まります。</p></div>
</div>
<div class="tri" style="top:2538px"></div>

<div class="step" style="top:2600px">
<div class="circ" id="c6"><svg width="420" height="420" viewBox="0 0 420 420">
<defs><clipPath id="p6"><polygon points="0,100 28.9,91.4 62.5,62.5 79.4,67.4 103.4,87.8 130,79.4 182.8,55.3 200,54 270.6,59 278,90.7 331,60.5 351,56.7 371.4,65.5 395,110 401.6,176.4 394,226 0,226"/></clipPath>
<clipPath id="l6"><polygon points="38.5,256 80,252 120,255 170,251 220,254 260,250 300,254 360,252 361.3,327.6 38.5,327.6"/></clipPath>
<filter id="bl6" x="-5%" y="-5%" width="110%" height="110%"><feGaussianBlur stdDeviation="1.6 2.2"/></filter></defs>
<rect width="420" height="420" fill="#eff0f2"/>
<polygon points="399,163.8 420,160 420,240 399,240" fill="#eef0f0"/>
<!-- lower machine bands -->
<rect x="0" y="252" width="420" height="19" fill="#346b6c"/>
<rect x="0" y="271" width="420" height="7.5" fill="#2e5a50"/>
<rect x="0" y="278.5" width="420" height="11.3" fill="#dde6ee"/>
<rect x="0" y="289.8" width="420" height="6.2" fill="#3a3f48"/>
<rect x="0" y="296" width="420" height="32" fill="#a6abb0"/>
<!-- pile -->
<polygon points="0,100 28.9,91.4 62.5,62.5 79.4,67.4 103.4,87.8 130,79.4 182.8,55.3 200,54 270.6,59 278,90.7 331,60.5 351,56.7 371.4,65.5 395,110 401.6,176.4 394,226 0,226" fill="#dbe6ef"/>
<polygon points="118,86.6 182.8,55.3 200,54 270.6,59 278,95.8 255.4,121 200,125 140,115" fill="#e6e7e9"/>
<g clip-path="url(#p6)">
<path fill="#9c8f90" d="M319 195l2 3l-1 1l-2 -3zM388 180l2 -2l2 2l-2 2zM393 57h6v2h-6zM116 170h3v3h-3zM77 170l2 -3l5 3l-2 3zM50 155l3 -2l1 2l-3 2zM395 213l2 4l-3 2l-2 -4zM257 74h7v2h-7zM76 109l2 -4l2 1l-2 4zM235 164l4 4l-1 1l-4 -4zM370 217h2v7h-2zM135 136l3 2l-2 3l-3 -2zM87 164h6v3h-6zM314 83l5 3l-1 2l-5 -3zM390 86h2v3h-2zM57 184l3 -5l3 2l-3 5zM264 67l5 -3l2 3l-5 3zM298 101h4v6h-4zM359 208l3 5l-2 1l-3 -5zM296 123l4 4l-1 1l-4 -4zM29 127l1 -1l5 5l-1 1zM191 70l3 3l-3 3l-3 -3zM22 87l3 -3l5 5l-3 3zM103 158l1 -2l5 3l-1 2zM157 159h4v5h-4zM40 85l5 5l-1 1l-5 -5zM367 129l5 3l-1 2l-5 -3zM63 55h2v3h-2zM77 193l4 2l-1 2l-4 -2zM49 71h3v7h-3zM239 202h3v3h-3zM347 73l2 -2l2 2l-2 2zM215 103h4v6h-4zM222 215l2 -2l5 5l-2 2zM218 166l3 5l-3 2l-3 -5zM17 188h3v5h-3zM364 104l3 -2l2 3l-3 2zM138 186h3v3h-3zM191 130h4v3h-4zM370 132l2 3l-2 1l-2 -3zM67 106h5v4h-5zM39 189l3 2l-1 2l-3 -2zM213 72h3v6h-3zM64 146l1 -1l3 3l-1 1zM380 140l2 1l-2 4l-2 -1zM135 122h2v7h-2zM94 104l2 -3l5 3l-2 3zM22 168h4v2h-4zM195 194l2 -3l6 4l-2 3zM140 123h4v2h-4zM343 95l1 1l-3 3l-1 -1zM336 218l1 1l-4 4l-1 -1zM381 67l3 3l-2 2l-3 -3zM48 74l5 -5l2 2l-5 5zM264 93h6v3h-6zM300 173l1 -1l5 5l-1 1zM43 168l3 -2l2 4l-3 2zM285 60l3 4l-3 2l-3 -4zM287 160l1 -1l2 2l-1 1zM310 208l3 2l-4 6l-3 -2zM340 175l5 5l-2 2l-5 -5zM234 64l2 3l-2 1l-2 -3zM186 132l2 -2l4 4l-2 2zM148 116l6 3l-1 3l-6 -3zM118 70l2 -2l2 2l-2 2zM270 97h3v3h-3zM202 168h3v7h-3zM216 175h3v2h-3zM277 129l3 -3l3 3l-3 3zM30 179h3v4h-3zM107 223h6v3h-6zM317 130h4v3h-4zM45 200l3 -2l4 6l-3 2zM213 60l3 3l-1 1l-3 -3zM231 152h4v2h-4zM344 137h3v4h-3zM193 174l5 3l-1 2l-5 -3zM20 104l1 -1l2 2l-1 1zM14 169l3 -6l1 1l-3 6zM260 102l1 1l-5 5l-1 -1zM292 105l3 2l-2 4l-3 -2zM280 146l1 -1l4 6l-1 1zM312 187l1 2l-2 1l-1 -2zM275 94l1 1l-3 6l-1 -1zM300 70h2v5h-2zM123 65h6v4h-6zM381 126l3 -3l1 1l-3 3zM107 101l3 2l-3 4l-3 -2zM38 156l2 1l-1 2l-2 -1zM346 99l3 -5l2 1l-3 5zM265 166l2 -3l2 1l-2 3zM116 148l3 6l-3 1l-3 -6zM142 73l1 -2l5 3l-1 2zM194 164l1 -1l2 1l-1 1zM106 211l3 6l-2 1l-3 -6zM6 157l4 4l-1 1l-4 -4zM74 223l3 2l-2 3l-3 -2zM287 201l2 2l-5 5l-2 -2zM195 115l3 -3l2 2l-3 3zM337 217l3 -2l1 2l-3 2zM238 139l1 -1l2 2l-1 1zM29 166l2 -2l4 4l-2 2zM70 55l2 3l-5 3l-2 -3zM32 187h4v3h-4zM40 134l2 -1l2 3l-2 1zM268 59l3 2l-1 2l-3 -2zM35 95l4 4l-1 1l-4 -4zM213 200h2v5h-2zM73 85l3 5l-2 1l-3 -5zM91 131h6v3h-6zM391 150l3 -3l2 2l-3 3zM352 211l4 2l-1 2l-4 -2zM269 125l3 6l-3 2l-3 -6zM285 196l3 -1l2 4l-3 1zM4 160l1 1l-2 1l-1 -1zM52 204h2v7h-2zM395 209l2 -2l3 3l-2 2zM256 203l5 -3l2 3l-5 3zM54 143h3v4h-3zM191 135h7v2h-7zM179 154l3 5l-3 2l-3 -5zM352 96l3 2l-1 2l-3 -2zM24 81l4 -6l2 1l-4 6zM342 75l3 -3l2 2l-3 3zM382 142h5v3h-5zM363 111l1 2l-5 3l-1 -2zM191 166l2 1l-1 2l-2 -1zM320 208l6 -4l2 3l-6 4zM168 53l2 1l-4 6l-2 -1zM314 55l3 -2l2 4l-3 2zM286 121h4v6h-4zM116 143l1 -2l5 3l-1 2zM80 63l2 4l-2 1l-2 -4zM209 114l3 2l-1 3l-3 -2zM175 130h5v2h-5zM151 61l2 2l-3 3l-2 -2zM198 218h5v3h-5zM50 130h3v6h-3zM157 163h5v3h-5zM352 79l2 -2l5 5l-2 2zM52 176l3 2l-4 6l-3 -2zM172 146l2 -3l5 3l-2 3zM240 149l1 3l-3 2l-1 -3zM338 100l3 6l-3 2l-3 -6zM77 106l4 -4l1 1l-4 4zM273 187h4v3h-4zM183 72l5 -3l2 3l-5 3zM301 207l1 -2l4 2l-1 2zM194 123l4 2l-1 2l-4 -2zM31 116l3 -3l2 2l-3 3zM104 74h5v3h-5zM94 63h7v4h-7zM320 96l4 -2l1 3l-4 2zM199 192l2 -4l3 2l-2 4zM229 125h5v3h-5zM349 171l3 -2l2 3l-3 2zM294 106h5v2h-5zM381 179l5 -3l1 2l-5 3zM36 165h7v2h-7zM174 171h2v5h-2zM211 104l2 1l-3 6l-2 -1zM225 67l2 -3l3 2l-2 3zM285 68l1 -1l3 3l-1 1zM198 124l2 -4l2 1l-2 4zM319 208h4v2h-4zM81 192h6v3h-6zM340 125l3 -2l2 3l-3 2zM363 66l3 3l-2 2l-3 -3zM209 210l5 -3l1 1l-5 3zM353 130h4v4h-4zM279 216l3 3l-4 4l-3 -3zM278 123h6v4h-6zM91 156l1 -1l4 4l-1 1zM144 198l1 2l-4 2l-1 -2zM177 194l3 3l-2 2l-3 -3zM223 205l1 2l-2 1l-1 -2zM170 150l4 2l-1 2l-4 -2zM294 209l2 3l-3 2l-2 -3zM13 171h3v7h-3zM239 151h3v4h-3zM197 175l4 -4l2 2l-4 4zM180 106l2 1l-3 6l-2 -1zM211 133h3v4h-3zM105 121l3 2l-3 5l-3 -2zM21 119l1 -1l5 5l-1 1zM112 103l3 -2l3 5l-3 2zM382 163l2 -1l1 1l-2 1zM340 66l6 4l-2 3l-6 -4zM157 59h4v5h-4zM392 94l2 -3l3 2l-2 3zM253 207l4 -2l2 3l-4 2zM8 204l2 3l-6 3l-2 -3zM66 126h2v7h-2zM227 67l6 -3l1 2l-6 3zM269 74l5 -3l2 3l-5 3zM388 179l3 5l-2 1l-3 -5zM179 106l1 -1l4 2l-1 1zM13 112h4v3h-4zM115 65h4v3h-4zM158 162l3 -2l2 3l-3 2zM399 67h4v4h-4zM271 67l2 -2l5 5l-2 2zM289 101h2v7h-2zM9 130h5v2h-5zM138 181l4 -4l3 3l-4 4zM260 127h5v3h-5zM250 138l3 -3l3 3l-3 3zM50 81l3 -2l3 5l-3 2zM108 114h2v5h-2zM7 195h3v2h-3zM164 212l2 2l-5 5l-2 -2zM331 211l3 3l-2 2l-3 -3zM189 108l3 5l-2 1l-3 -5zM68 215l2 3l-3 2l-2 -3zM323 131l5 -5l2 2l-5 5zM80 150l3 -3l2 2l-3 3zM288 115l6 -4l1 1l-6 4zM328 107l5 -5l1 1l-5 5zM39 145l1 2l-4 3l-1 -2zM393 164h2v6h-2zM34 142l2 -2l3 3l-2 2zM44 117h4v2h-4zM264 67l4 -4l2 2l-4 4zM61 148l2 -2l3 3l-2 2zM268 156h4v3h-4zM368 139h5v3h-5zM10 88l2 3l-6 3l-2 -3zM373 196l2 2l-4 4l-2 -2zM250 81l2 3l-2 1l-2 -3zM190 211h5v4h-5zM297 222l3 -2l2 3l-3 2zM201 106l2 2l-5 5l-2 -2zM179 139h7v4h-7zM331 186l5 -5l1 1l-5 5zM169 67l2 -2l2 2l-2 2zM196 79l2 3l-2 1l-2 -3zM21 155l1 1l-2 2l-1 -1zM53 133h3v5h-3zM196 197l4 6l-3 2l-4 -6zM229 179l2 2l-5 5l-2 -2zM366 63l1 1l-3 3l-1 -1zM245 57l5 -3l1 2l-5 3zM362 100l1 1l-3 3l-1 -1zM136 73l1 1l-3 5l-1 -1zM380 174l1 -1l4 3l-1 1zM335 119l2 3l-3 2l-2 -3zM202 94l2 1l-3 6l-2 -1zM113 59l4 -6l3 2l-4 6zM401 211l3 2l-2 3l-3 -2zM30 157l3 6l-3 2l-3 -6zM401 94h2v3h-2zM140 134h4v7h-4zM236 101l3 -2l1 2l-3 2zM168 217l4 -6l3 2l-4 6zM365 84h7v4h-7zM233 209l5 -3l2 3l-5 3zM103 127l3 -5l3 2l-3 5zM254 133l4 -2l1 1l-4 2zM201 71l3 5l-2 1l-3 -5zM198 171h3v5h-3zM94 142h6v3h-6zM163 81h2v3h-2zM79 201l2 2l-2 2l-2 -2zM116 226h2v5h-2zM46 220l4 -2l2 3l-4 2z"/>
<path fill="#b9abac" d="M366 146h5v3h-5zM339 110h4v7h-4zM196 197l3 -5l3 2l-3 5zM201 170l4 -4l2 2l-4 4zM194 76h3v7h-3zM315 118h5v2h-5zM57 118l5 -5l2 2l-5 5zM387 170h4v2h-4zM65 162h3v7h-3zM168 80l3 -3l2 2l-3 3zM342 76h3v5h-3zM46 176l3 -3l1 1l-3 3zM68 167h4v3h-4zM53 125l4 -6l2 1l-4 6zM252 136l2 3l-3 2l-2 -3zM42 83h2v7h-2zM136 96h4v4h-4zM5 207l5 5l-2 2l-5 -5zM273 136h3v3h-3zM229 85l3 3l-2 2l-3 -3zM88 223l3 -5l2 1l-3 5zM107 221l2 -4l2 1l-2 4zM23 168l3 3l-1 1l-3 -3zM0 98h4v3h-4zM43 190h2v3h-2zM78 83l1 1l-4 4l-1 -1zM187 186l6 3l-2 3l-6 -3zM146 139l2 2l-5 5l-2 -2zM42 207l2 2l-4 4l-2 -2zM341 113h2v7h-2zM401 71l3 3l-3 3l-3 -3zM60 53l3 -3l3 3l-3 3zM304 165l2 -2l4 4l-2 2zM202 162h3v3h-3zM389 147h3v7h-3zM141 76h4v7h-4zM97 161l3 3l-2 2l-3 -3zM217 192l3 -5l3 2l-3 5zM257 199h3v4h-3zM81 80l5 3l-2 3l-5 -3zM227 119h5v3h-5zM256 104l3 3l-1 1l-3 -3zM210 65h3v3h-3zM281 85l1 -3l4 2l-1 3zM27 207h3v7h-3zM1 195l2 1l-4 6l-2 -1zM34 112l5 3l-1 2l-5 -3zM71 125l2 -1l2 4l-2 1zM224 136l1 -2l6 4l-1 2zM91 60l2 -2l5 5l-2 2zM272 101l1 -2l4 2l-1 2zM36 64h6v2h-6zM381 171l3 5l-3 2l-3 -5zM226 84l3 2l-1 2l-3 -2zM75 75l3 6l-3 2l-3 -6zM354 216l3 -3l3 3l-3 3zM62 54h4v4h-4zM226 185l4 -2l1 2l-4 2zM83 136l5 3l-2 3l-5 -3zM103 208h3v3h-3zM30 194l2 -2l4 4l-2 2zM230 127l4 -4l2 2l-4 4zM109 180l4 4l-2 2l-4 -4zM359 151l6 3l-1 2l-6 -3zM322 216l3 -3l5 5l-3 3zM315 88l4 -3l1 2l-4 3zM17 69h3v7h-3zM217 162l2 -3l3 2l-2 3zM258 86l1 2l-6 3l-1 -2zM184 105h6v2h-6zM145 150l2 3l-3 2l-2 -3zM360 79l2 3l-2 1l-2 -3zM52 200h3v4h-3zM299 214l1 2l-6 4l-1 -2zM16 81h3v4h-3zM239 181l4 4l-2 2l-4 -4zM92 97l3 -3l2 2l-3 3zM380 123l2 3l-3 2l-2 -3zM105 225h3v2h-3zM1 61l1 -2l3 2l-1 2zM98 53l1 2l-3 2l-1 -2zM186 172l3 -3l2 2l-3 3zM78 150h3v5h-3zM388 119h6v3h-6zM239 214l2 2l-3 3l-2 -2zM124 140h6v2h-6zM24 123l2 -1l3 5l-2 1zM351 68l2 1l-3 5l-2 -1zM378 108h7v3h-7zM340 88l4 6l-3 2l-4 -6zM216 142l4 -4l2 2l-4 4zM222 71l2 2l-2 2l-2 -2zM339 71l2 -2l3 3l-2 2zM393 160l1 -1l3 3l-1 1zM244 199l1 -2l3 2l-1 2zM254 184l3 -3l2 2l-3 3zM48 146l3 3l-2 2l-3 -3zM309 132l3 2l-3 5l-3 -2zM232 115l1 1l-4 4l-1 -1zM56 152l3 -2l1 2l-3 2zM126 69l2 2l-2 2l-2 -2zM204 58l5 3l-1 1l-5 -3zM260 188h5v3h-5zM247 157l2 1l-2 3l-2 -1zM159 52l5 5l-2 2l-5 -5zM148 128l3 -2l1 2l-3 2zM123 146l3 -3l2 2l-3 3zM351 184l4 4l-2 2l-4 -4zM263 74h2v5h-2zM126 163l2 2l-4 4l-2 -2zM210 98l6 3l-1 2l-6 -3zM381 219h3v2h-3zM333 175l3 -3l2 2l-3 3zM380 73l3 2l-1 2l-3 -2zM162 158h4v3h-4zM149 53l4 -6l3 2l-4 6zM62 134l3 -6l2 1l-3 6zM236 212l1 2l-5 3l-1 -2zM236 211l1 2l-3 2l-1 -2zM102 128l3 2l-1 3l-3 -2zM382 167l2 -3l4 2l-2 3zM263 143l2 2l-5 5l-2 -2zM25 187h5v3h-5zM19 122h3v2h-3zM154 141l4 6l-2 1l-4 -6zM381 131l2 1l-3 5l-2 -1zM207 129l3 -3l3 3l-3 3zM358 179l5 -3l2 3l-5 3zM115 160h3v6h-3zM276 180l2 -3l4 2l-2 3zM388 80h2v7h-2zM397 174l6 -3l1 2l-6 3zM9 74l2 -1l2 4l-2 1zM383 71l3 2l-1 2l-3 -2zM46 119l2 4l-3 1l-2 -4zM227 221l3 3l-4 4l-3 -3zM377 167h3v5h-3zM308 70h3v4h-3zM229 120h3v5h-3zM208 216l2 -2l5 5l-2 2zM247 174l3 -5l2 1l-3 5zM166 214h6v4h-6zM72 69h3v5h-3zM219 112h7v4h-7zM240 185l2 2l-3 3l-2 -2zM169 53l1 -2l6 4l-1 2zM46 208h3v3h-3zM73 83l6 3l-1 1l-6 -3zM178 52l2 -1l2 3l-2 1zM60 102l2 1l-3 5l-2 -1zM176 106h7v2h-7zM388 89l3 -2l3 5l-3 2zM189 71l2 -4l1 1l-2 4zM38 195l1 -2l5 3l-1 2zM66 196l3 5l-2 1l-3 -5zM30 219l1 -1l2 1l-1 1zM181 214l3 -2l2 3l-3 2zM188 53h4v6h-4zM373 216l3 5l-2 1l-3 -5zM268 202l1 2l-4 2l-1 -2zM247 94l3 5l-3 2l-3 -5zM121 210l5 5l-2 2l-5 -5zM358 162h3v4h-3zM156 134h3v3h-3zM347 195h2v5h-2zM9 64l2 4l-2 1l-2 -4zM229 208l5 -3l2 3l-5 3zM269 71l2 1l-3 5l-2 -1zM400 207l1 2l-2 1l-1 -2zM345 192h6v3h-6zM246 120l1 -1l2 2l-1 1zM305 206l3 -2l2 3l-3 2zM289 176h3v5h-3zM157 147l2 2l-2 2l-2 -2zM192 89l4 -4l2 2l-4 4zM274 150l2 -1l2 3l-2 1zM16 93h4v3h-4zM261 166l6 -3l1 2l-6 3zM396 100h5v3h-5zM389 76l2 -3l5 3l-2 3zM108 129l3 1l-1 2l-3 -1zM271 183l1 -1l2 4l-1 1zM236 177l2 -2l5 5l-2 2zM274 131h3v6h-3zM218 167l3 -2l2 4l-3 2zM344 64l2 -2l3 3l-2 2zM347 199h3v5h-3zM299 222l2 1l-1 3l-2 -1zM55 186l1 -2l2 1l-1 2zM389 206l1 3l-6 3l-1 -3zM174 143l2 -2l3 3l-2 2zM278 200l2 2l-2 2l-2 -2zM395 100h5v2h-5zM149 98l3 -3l4 4l-3 3zM177 98h3v4h-3zM199 191l3 6l-2 1l-3 -6zM345 132l1 -2l5 3l-1 2zM296 148l3 5l-2 1l-3 -5zM30 224l2 -1l2 3l-2 1zM122 88l4 4l-2 2l-4 -4zM44 140h6v2h-6zM310 108l3 -3l1 1l-3 3zM215 145l3 -3l5 5l-3 3zM214 206l3 2l-4 6l-3 -2zM184 76l3 2l-2 3l-3 -2zM116 217h3v5h-3zM173 160h6v3h-6zM85 220h4v4h-4zM19 83l3 -3l3 3l-3 3zM114 204l1 2l-3 2l-1 -2zM208 127h2v4h-2zM284 126l1 -1l3 6l-1 1zM136 89l2 -4l2 1l-2 4zM5 136h7v3h-7zM291 57l1 -1l5 5l-1 1zM292 151l2 3l-5 3l-2 -3zM227 139h7v3h-7zM365 173l3 2l-2 3l-3 -2zM62 201h3v3h-3zM393 222l1 -2l4 2l-1 2zM16 202h3v7h-3zM110 176h3v5h-3zM81 120l2 -3l5 3l-2 3zM106 213h3v6h-3zM226 189h4v5h-4zM256 153h4v2h-4zM304 154l2 -2l4 4l-2 2zM10 108h5v4h-5zM121 136l3 6l-3 2l-3 -6zM396 119l6 -3l2 3l-6 3zM112 204l6 -3l1 2l-6 3zM396 103l3 5l-2 1l-3 -5zM147 213h3v6h-3zM66 138l2 1l-3 5l-2 -1zM210 212h2v7h-2zM302 89h5v2h-5zM380 155l4 -4l3 3l-4 4zM284 170h7v2h-7zM115 99l3 6l-3 2l-3 -6zM332 96h3v3h-3zM219 204l2 1l-3 5l-2 -1zM346 123l3 -2l2 3l-3 2zM104 102l4 4l-1 1l-4 -4zM380 156l2 2l-3 3l-2 -2zM302 80l1 -2l3 2l-1 2zM246 183h7v3h-7zM235 219l1 2l-5 3l-1 -2zM240 73h3v3h-3zM214 157l2 1l-3 5l-2 -1zM211 191h6v2h-6zM317 113l1 -1l3 3l-1 1zM227 155l1 -2l3 2l-1 2zM382 196l2 -1l3 5l-2 1zM209 104l3 -2l2 3l-3 2zM232 76l5 -3l1 2l-5 3zM283 150l2 2l-2 2l-2 -2zM130 109l4 6l-2 1l-4 -6zM385 70l2 3l-4 3l-2 -3zM317 122l2 -1l3 5l-2 1zM225 131l6 3l-1 2l-6 -3zM302 171h3v3h-3zM49 173l2 3l-5 3l-2 -3zM232 95l1 2l-2 1l-1 -2zM366 174l3 3l-2 2l-3 -3zM395 167l2 -3l2 1l-2 3zM379 189l3 -6l2 1l-3 6zM144 199h3v5h-3zM393 225h3v7h-3zM103 178h3v6h-3zM135 113l2 -4l2 1l-2 4zM40 136l2 4l-3 2l-2 -4zM389 102l1 2l-4 2l-1 -2zM157 117l2 -2l2 2l-2 2zM327 147h3v3h-3zM150 213l3 -2l4 6l-3 2zM341 201h4v7h-4zM283 85l1 1l-2 2l-1 -1zM78 219l3 2l-2 3l-3 -2zM322 210l4 -4l2 2l-4 4zM150 72l3 2l-1 2l-3 -2zM257 168l3 2l-4 6l-3 -2zM220 98l3 6l-2 1l-3 -6zM235 194h2v6h-2zM238 189h4v2h-4zM325 109l2 2l-4 4l-2 -2zM360 166l1 1l-3 3l-1 -1zM220 95l2 3l-1 1l-2 -3zM348 145l1 2l-4 2l-1 -2zM140 176l2 -1l2 3l-2 1zM144 74l6 -3l1 2l-6 3zM270 57l3 -2l1 2l-3 2zM353 184h6v4h-6zM210 118l3 -2l4 6l-3 2zM90 80l1 1l-4 4l-1 -1zM146 205h3v2h-3zM131 153l6 3l-1 2l-6 -3zM193 171l3 -2l2 3l-3 2zM347 98h4v4h-4zM240 109h2v6h-2zM11 96l3 3l-1 1l-3 -3zM276 74l1 1l-4 2l-1 -1zM70 192h4v2h-4zM245 129h3v5h-3zM228 134l1 -2l2 1l-1 2zM142 57h3v4h-3zM390 107l2 -1l2 3l-2 1zM373 103l2 -2l3 3l-2 2zM78 186l2 2l-5 5l-2 -2zM83 81l2 -3l3 2l-2 3zM240 73l3 -2l3 5l-3 2zM277 87l2 3l-4 2l-2 -3zM4 177l3 -3l5 5l-3 3zM21 185h5v3h-5zM3 170l3 3l-1 1l-3 -3zM62 62h3v4h-3zM159 103h5v4h-5zM277 78l4 4l-2 2l-4 -4zM63 120h6v3h-6zM50 141l1 1l-3 6l-1 -1zM219 141l3 6l-3 2l-3 -6zM327 193h3v4h-3zM30 207l5 3l-1 2l-5 -3zM90 194h4v4h-4zM394 168l1 2l-2 1l-1 -2zM315 155h5v3h-5zM361 115l2 3l-2 1l-2 -3zM150 100h4v4h-4zM301 76l2 -3l5 3l-2 3zM191 74h4v3h-4zM161 89h3v3h-3zM60 73l4 4l-2 2l-4 -4zM63 168h7v2h-7zM96 76l3 -2l1 2l-3 2zM376 147l1 1l-5 3l-1 -1zM96 146l2 -1l3 5l-2 1zM316 184l1 -2l3 2l-1 2zM290 174h5v3h-5zM389 184l2 -2l5 5l-2 2zM83 118l2 2l-5 5l-2 -2zM73 130h2v4h-2zM293 109h3v7h-3zM377 96l2 -4l2 1l-2 4zM234 53l2 -1l1 2l-2 1zM28 97l1 2l-3 2l-1 -2zM189 77l4 -4l1 1l-4 4zM214 54l2 2l-5 5l-2 -2zM42 164l2 -3l3 1l-2 3zM264 136h5v2h-5zM111 75h5v3h-5zM69 210l6 -3l1 1l-6 3zM258 77h3v7h-3zM212 127h4v3h-4zM82 154h3v3h-3zM159 77h5v3h-5zM188 60l2 3l-3 2l-2 -3zM299 93h2v5h-2zM106 58h4v3h-4zM166 158h6v3h-6zM58 216l3 1l-3 5l-3 -1zM95 126h5v2h-5zM18 179h4v2h-4zM240 209h3v3h-3zM231 185l3 2l-3 5l-3 -2zM334 121l3 -5l2 1l-3 5zM106 85h4v3h-4zM41 55l3 -5l3 2l-3 5zM233 145h5v2h-5zM312 182l3 -2l1 2l-3 2zM171 86h5v4h-5zM81 68h3v7h-3zM330 77h2v6h-2zM93 156l2 -2l5 5l-2 2zM389 148h5v3h-5zM386 117l5 -5l2 2l-5 5zM48 148h2v6h-2zM225 156l4 -4l3 3l-4 4zM130 109l2 1l-3 6l-2 -1zM179 129l2 -2l3 3l-2 2zM53 104l2 -3l3 2l-2 3zM270 182l4 2l-1 3l-4 -2zM30 215h7v2h-7zM220 88h4v3h-4zM126 103l2 3l-3 2l-2 -3zM371 192l2 2l-4 4l-2 -2zM92 84l2 3l-3 1l-2 -3zM82 120l2 1l-2 4l-2 -1zM162 120l1 1l-2 3l-1 -1zM334 154l2 -4l3 2l-2 4zM18 170l1 2l-3 2l-1 -2zM195 223l3 -5l2 1l-3 5zM214 75h7v4h-7zM151 200h2v5h-2zM63 92h2v4h-2zM241 120l2 2l-3 3l-2 -2zM313 103l1 -2l4 3l-1 2zM110 219h5v4h-5zM165 110l6 -3l1 2l-6 3zM324 156l3 3l-3 3l-3 -3zM147 142l1 -1l3 3l-1 1zM87 78l2 -2l1 1l-2 2zM390 98h3v3h-3zM254 163h5v2h-5zM278 130l2 -1l1 2l-2 1zM286 185l3 -2l3 5l-3 2zM27 66l4 4l-2 2l-4 -4zM222 97h5v3h-5zM239 57h4v4h-4zM357 144l1 -2l4 2l-1 2zM363 218l1 -2l5 3l-1 2zM381 101l3 2l-4 6l-3 -2zM32 95h6v3h-6zM196 91l2 2l-4 4l-2 -2zM308 197l2 -2l3 3l-2 2zM219 195h2v6h-2zM393 161l5 -3l1 2l-5 3zM368 96l2 -4l3 2l-2 4zM43 112h6v2h-6zM120 121h3v3h-3zM43 221h2v4h-2zM96 104h6v2h-6zM30 112h3v3h-3zM131 98l3 3l-4 4l-3 -3zM320 81l2 -3l3 2l-2 3zM100 129l4 6l-3 2l-4 -6zM342 193l6 4l-1 3l-6 -4zM69 82l4 -4l2 2l-4 4zM148 145l3 -6l2 1l-3 6zM271 75h3v3h-3zM260 108l4 4l-2 2l-4 -4zM160 152l3 2l-2 3l-3 -2zM393 144l2 -1l3 6l-2 1zM91 117h3v3h-3zM6 143h2v5h-2zM148 89l2 2l-2 2l-2 -2zM89 105l4 4l-1 1l-4 -4zM111 60h2v3h-2zM278 124l3 5l-3 1l-3 -5zM330 77l3 3l-2 2l-3 -3zM133 223h3v3h-3zM279 111l3 -5l3 2l-3 5zM229 188l2 -1l3 6l-2 1zM251 194l1 2l-1 1l-1 -2zM180 74h3v6h-3zM77 144l2 3l-2 1l-2 -3zM202 94h5v4h-5z"/>
<path fill="#5f6064" d="M304 174l2 2l-1 1l-2 -2zM170 188l2 2l-4 4l-2 -2zM18 135h3v2h-3zM13 67h3v6h-3zM138 66l1 2l-3 2l-1 -2zM302 170l2 1l-3 5l-2 -1zM349 165h2v3h-2zM330 140h4v6h-4zM253 202l2 4l-2 1l-2 -4zM223 206h5v2h-5zM256 163l2 2l-5 5l-2 -2zM246 145l5 -3l2 3l-5 3zM177 185l2 -1l1 2l-2 1zM224 146l4 -6l1 1l-4 6zM108 108h2v5h-2zM182 72l1 -2l2 1l-1 2zM309 72l3 -2l2 4l-3 2zM228 162l2 2l-4 4l-2 -2zM334 222h7v2h-7zM278 108h2v3h-2zM128 129l2 1l-1 2l-2 -1zM5 203h4v6h-4zM37 68l4 4l-2 2l-4 -4zM282 186l6 4l-1 2l-6 -4zM299 185h2v4h-2zM247 55l3 -3l3 3l-3 3zM101 180h5v3h-5zM199 177l3 3l-2 2l-3 -3zM314 88l3 3l-3 3l-3 -3zM315 102h4v3h-4zM101 207h3v7h-3zM72 189h4v3h-4zM364 106l3 3l-5 5l-3 -3zM242 225h4v2h-4zM167 77l5 -5l3 3l-5 5zM367 191l2 3l-6 4l-2 -3zM17 95l4 2l-2 3l-4 -2zM185 171l3 2l-1 2l-3 -2zM170 149l2 2l-1 1l-2 -2zM181 181l3 -2l3 4l-3 2zM215 195l1 2l-5 3l-1 -2zM390 70l1 3l-5 3l-1 -3zM45 153l6 4l-2 3l-6 -4zM258 202l3 4l-2 1l-3 -4zM38 196l2 1l-2 3l-2 -1zM145 207l6 3l-2 3l-6 -3zM347 116l1 -2l5 3l-1 2zM244 192h6v4h-6zM365 101l2 3l-5 3l-2 -3zM119 217h3v6h-3zM177 123h4v4h-4zM291 92l3 3l-2 2l-3 -3zM370 170h4v3h-4zM359 139h5v3h-5zM348 117l4 2l-2 3l-4 -2zM265 191l1 3l-3 2l-1 -3zM218 87l1 -3l4 2l-1 3zM231 200l3 -3l2 2l-3 3zM354 76h6v3h-6zM48 170l2 2l-3 3l-2 -2zM189 173l3 -2l2 4l-3 2zM0 173l2 2l-4 4l-2 -2zM39 211h5v2h-5zM119 173l3 -5l3 2l-3 5zM346 113h3v6h-3zM214 114h2v6h-2zM4 221l3 -2l2 3l-3 2zM56 135l2 -2l2 2l-2 2zM349 187l2 -2l4 4l-2 2zM45 133h2v5h-2zM58 116l4 4l-3 3l-4 -4zM304 95l3 -3l2 2l-3 3zM171 226h7v2h-7zM363 153h5v3h-5zM190 209l2 2l-5 5l-2 -2zM213 110l2 2l-5 5l-2 -2zM112 93h4v7h-4zM63 58h3v3h-3zM221 82l2 3l-3 1l-2 -3zM138 202h6v2h-6zM272 96h7v2h-7zM339 176l2 -3l4 2l-2 3zM136 85h6v2h-6zM97 57l2 -3l3 2l-2 3zM19 193l1 -2l4 2l-1 2zM182 219h3v7h-3zM110 72h4v3h-4zM13 186l6 4l-2 3l-6 -4zM4 175l4 4l-1 1l-4 -4zM180 67l3 3l-2 2l-3 -3zM272 208l6 4l-2 3l-6 -4zM354 131l3 -2l1 2l-3 2zM160 98h6v3h-6zM195 89l4 -2l1 2l-4 2zM69 148h7v4h-7zM106 87h2v4h-2zM117 190l3 3l-3 3l-3 -3zM125 101l1 -1l4 4l-1 1zM226 78l1 -2l4 3l-1 2zM203 84h3v4h-3zM392 205h2v4h-2zM59 195l2 2l-4 4l-2 -2zM177 202l2 4l-2 1l-2 -4zM286 169l1 2l-3 2l-1 -2zM252 149l4 -3l1 2l-4 3zM31 99l2 -1l4 6l-2 1zM215 64h7v4h-7zM250 90l3 2l-1 2l-3 -2zM73 202l2 4l-3 2l-2 -4zM283 195l2 2l-2 2l-2 -2zM11 125l5 -3l2 3l-5 3zM67 80h2v3h-2zM49 162l4 3l-1 2l-4 -3zM39 153h7v2h-7zM387 162h3v5h-3zM387 130l3 2l-3 5l-3 -2zM393 97l1 1l-2 1l-1 -1zM154 180l2 3l-2 1l-2 -3zM117 217l5 -3l1 2l-5 3zM271 125l1 -2l3 2l-1 2zM65 206l2 -1l3 5l-2 1zM312 192l4 2l-2 3l-4 -2zM73 146l2 -3l4 2l-2 3zM31 124h4v7h-4zM343 67l2 -1l3 6l-2 1zM358 212l6 4l-2 3l-6 -4zM147 116l2 -2l2 2l-2 2zM355 66h4v6h-4zM388 163h3v2h-3zM380 62l6 4l-2 3l-6 -4zM142 101l2 -1l2 3l-2 1zM42 121h4v3h-4zM268 107l2 2l-3 3l-2 -2zM283 136l6 -3l2 3l-6 3zM102 152l2 3l-3 2l-2 -3zM20 193l3 2l-3 6l-3 -2zM193 114l3 2l-1 2l-3 -2zM400 203h4v2h-4zM189 125l2 4l-3 2l-2 -4zM188 99l2 -4l3 2l-2 4zM208 195h5v2h-5zM376 158l2 1l-1 2l-2 -1zM69 151h7v3h-7zM136 59l2 2l-2 2l-2 -2zM261 122l2 1l-4 6l-2 -1zM104 88l2 -4l3 2l-2 4zM204 54l5 -3l1 2l-5 3zM55 157h4v3h-4zM246 182l2 -3l3 2l-2 3zM247 170l3 -2l3 5l-3 2zM96 52l3 3l-3 3l-3 -3zM19 91l2 1l-1 2l-2 -1zM64 176l2 1l-4 6l-2 -1zM300 215h3v4h-3zM91 132l3 3l-2 2l-3 -3zM396 143h3v3h-3zM280 205l1 -2l5 3l-1 2zM107 99l3 -5l2 1l-3 5zM192 133h3v3h-3zM86 203l4 -4l2 2l-4 4zM166 199l2 -1l3 5l-2 1zM197 54l4 -2l1 2l-4 2zM25 128l2 4l-2 1l-2 -4zM119 198l2 -2l4 4l-2 2zM165 191l3 -2l2 3l-3 2zM176 70h7v4h-7zM32 142h3v4h-3zM87 107l3 4l-2 1l-3 -4zM350 122l2 2l-2 2l-2 -2zM211 135l3 2l-1 2l-3 -2zM314 113h6v3h-6zM64 202l2 2l-2 2l-2 -2zM5 194h3v4h-3zM155 169l2 -2l4 4l-2 2zM36 120h4v5h-4zM302 216l3 -3l1 1l-3 3zM16 165l2 3l-3 2l-2 -3zM106 58h3v3h-3zM341 182l4 2l-1 2l-4 -2zM301 119h4v3h-4zM324 83h3v3h-3zM250 110l4 -2l1 2l-4 2zM260 78l1 -1l4 4l-1 1zM354 74l2 -3l2 1l-2 3z"/>
<path fill="#8b8283" d="M7 110l2 -2l4 4l-2 2zM225 161l2 2l-2 2l-2 -2zM146 215h3v2h-3zM318 76l4 6l-2 1l-4 -6zM378 67l3 3l-3 3l-3 -3zM135 58l2 -2l4 4l-2 2zM91 150h4v3h-4zM238 134l3 4l-3 2l-3 -4zM153 74l3 -6l2 1l-3 6zM211 221l5 -5l2 2l-5 5zM87 111l6 3l-1 2l-6 -3zM110 52h4v3h-4zM167 164l1 -2l2 1l-1 2zM293 185l2 2l-3 3l-2 -2zM257 56l1 1l-3 6l-1 -1zM280 167l3 3l-2 2l-3 -3zM319 210h5v3h-5zM24 166h3v6h-3zM310 156l2 3l-2 1l-2 -3zM111 200h2v4h-2zM340 217h3v7h-3zM72 71l3 -3l2 2l-3 3zM117 106h4v3h-4zM117 139h4v3h-4zM243 214l6 3l-2 3l-6 -3zM45 118l3 5l-3 2l-3 -5zM49 171h3v3h-3zM29 133h4v6h-4zM387 225h3v4h-3zM97 155l5 -3l2 3l-5 3zM85 120l2 -2l1 1l-2 2zM378 176l1 -1l2 2l-1 1zM265 193l1 1l-6 3l-1 -1zM331 216l3 -2l1 1l-3 2zM280 91l2 2l-2 2l-2 -2zM74 195h3v4h-3zM358 75l3 -4l2 1l-3 4zM159 70h2v7h-2zM254 211l2 2l-1 1l-2 -2zM280 64l3 -2l1 2l-3 2zM108 164h3v3h-3zM169 85l2 3l-1 1l-2 -3zM121 195h4v4h-4zM172 101l2 2l-2 2l-2 -2zM23 141l5 5l-3 3l-5 -5zM349 138l2 -1l3 6l-2 1zM81 180l6 -3l1 1l-6 3zM123 193l4 4l-1 1l-4 -4zM322 114l3 5l-3 2l-3 -5zM114 100h3v6h-3zM108 67l4 -3l2 3l-4 3zM229 224l3 -2l2 4l-3 2zM127 150l2 2l-2 2l-2 -2zM190 113l2 -3l6 4l-2 3zM363 108h2v6h-2zM321 214l2 -3l3 2l-2 3zM373 57l4 -4l3 3l-4 4zM209 207l2 -2l5 5l-2 2zM54 223l3 3l-1 1l-3 -3zM276 148l2 3l-1 1l-2 -3zM15 134h3v7h-3zM35 171l2 -3l5 3l-2 3zM317 85l2 -1l1 2l-2 1zM7 70l3 3l-1 1l-3 -3zM336 139h3v7h-3zM237 165l2 3l-2 1l-2 -3zM92 141h4v2h-4zM356 226l2 -3l3 2l-2 3zM301 162l2 2l-3 3l-2 -2zM353 71l6 3l-2 3l-6 -3zM200 119l5 3l-1 2l-5 -3zM84 183l2 -1l2 4l-2 1zM252 112l3 3l-2 2l-3 -3zM122 202l5 -5l1 1l-5 5zM149 193l2 -1l3 6l-2 1zM242 104h2v4h-2zM303 54l3 2l-2 3l-3 -2zM399 112l1 1l-5 5l-1 -1zM34 225h3v4h-3zM60 218h2v3h-2zM232 208h4v4h-4zM259 174l3 2l-2 3l-3 -2zM303 170h3v4h-3zM313 140l2 1l-1 2l-2 -1zM167 205h3v6h-3zM241 162l3 2l-1 2l-3 -2zM85 108l1 -2l5 3l-1 2zM225 215l3 -2l2 3l-3 2zM125 223l2 -2l3 3l-2 2zM94 61h6v2h-6zM107 202h3v4h-3zM70 141l1 1l-4 4l-1 -1zM205 149h2v3h-2zM250 150l2 -3l4 2l-2 3zM67 119l3 -2l1 1l-3 2zM318 137l2 -3l4 2l-2 3zM158 201l3 2l-1 2l-3 -2zM270 84l2 3l-3 1l-2 -3zM365 58h2v7h-2zM396 207l3 -3l1 1l-3 3zM89 89h4v2h-4zM263 215l2 -3l2 1l-2 3zM34 159h4v5h-4zM307 204l4 -4l3 3l-4 4zM70 190l2 4l-3 2l-2 -4zM256 220h3v3h-3zM141 121l2 -3l4 2l-2 3zM163 146l5 -3l2 3l-5 3zM184 87l2 2l-4 4l-2 -2zM44 194h3v4h-3zM26 93l1 2l-5 3l-1 -2zM200 101l6 -3l1 2l-6 3zM365 55l4 6l-3 2l-4 -6zM360 84l3 2l-2 3l-3 -2zM184 126h3v2h-3zM23 170l2 3l-5 3l-2 -3zM231 203h2v6h-2zM388 108l3 -2l3 5l-3 2zM106 107l3 -3l2 2l-3 3zM117 127l3 6l-2 1l-3 -6zM25 99l2 1l-2 4l-2 -1zM25 79h5v2h-5zM20 54l3 -5l3 2l-3 5zM251 217l2 3l-1 1l-2 -3zM382 208l4 2l-1 2l-4 -2zM6 75l2 -3l4 2l-2 3zM359 114l2 2l-3 3l-2 -2zM229 108l1 -2l2 1l-1 2zM147 158h3v2h-3zM376 116l1 1l-4 4l-1 -1zM256 203h3v3h-3zM299 192h5v2h-5zM240 166h3v7h-3zM77 118h3v2h-3zM381 76l1 1l-2 2l-1 -1zM136 127l3 3l-3 3l-3 -3zM342 170l1 3l-6 3l-1 -3zM81 137l2 3l-3 2l-2 -3zM97 64h3v4h-3zM149 105l3 -2l2 4l-3 2zM385 129l5 5l-1 1l-5 -5zM28 114l3 3l-2 2l-3 -3zM365 196l2 -1l3 6l-2 1zM147 181h7v2h-7zM311 111h3v2h-3zM335 215h2v5h-2zM7 103l2 -2l2 2l-2 2zM237 148l3 2l-2 3l-3 -2zM186 169h2v7h-2zM352 197l1 -1l5 5l-1 1zM271 73h2v3h-2zM88 210l4 2l-2 3l-4 -2zM271 71l3 3l-2 2l-3 -3zM157 72h7v2h-7zM159 78l3 6l-3 2l-3 -6zM35 138l2 4l-1 1l-2 -4zM74 187l2 -3l2 1l-2 3zM187 100h6v4h-6zM59 113l2 3l-3 2l-2 -3zM227 84l3 2l-2 3l-3 -2zM319 140l4 -4l2 2l-4 4zM78 139l2 1l-2 4l-2 -1zM299 126l1 1l-4 2l-1 -1zM148 71h2v7h-2zM275 203l2 -2l2 2l-2 2zM5 218l4 -6l2 1l-4 6zM97 132h3v5h-3zM185 194l2 3l-2 1l-2 -3zM9 171l3 5l-2 1l-3 -5zM204 172l5 5l-1 1l-5 -5zM156 189l1 1l-2 2l-1 -1zM371 160l2 -3l6 4l-2 3zM348 171l3 3l-2 2l-3 -3zM15 175l4 -2l2 3l-4 2zM41 130h4v7h-4zM39 128h5v4h-5zM92 151l2 -1l2 3l-2 1zM172 62l3 6l-2 1l-3 -6zM9 142h4v2h-4z"/>
<path fill="#6cb3a0" d="M394 95l3 6l-3 2l-3 -6zM357 78h4v4h-4zM94 142l2 2l-2 2l-2 -2zM205 132l1 2l-5 3l-1 -2zM287 213h7v2h-7zM20 159h3v3h-3zM290 205l2 4l-1 1l-2 -4zM150 110l2 -2l4 4l-2 2zM319 220h4v5h-4zM125 106h3v2h-3zM303 114l3 -2l1 1l-3 2zM386 76h3v3h-3zM140 129h7v2h-7z"/>
<path fill="#cfc4c5" d="M279 98l3 -2l4 6l-3 2zM225 135l2 2l-5 5l-2 -2zM113 78h2v4h-2zM391 81h2v4h-2zM328 166l1 -2l5 3l-1 2zM176 96l2 4l-2 1l-2 -4zM212 194l3 2l-2 3l-3 -2zM87 179h4v3h-4zM141 135h5v4h-5zM370 187h2v4h-2zM235 62l3 2l-1 2l-3 -2zM65 83l3 1l-2 4l-3 -1zM334 119l1 2l-2 1l-1 -2zM191 78l3 -6l3 2l-3 6zM203 184h5v4h-5zM361 216l3 -2l2 3l-3 2zM336 188l1 2l-5 3l-1 -2zM305 124l2 -3l4 2l-2 3zM394 87l1 -2l6 3l-1 2zM143 176h7v3h-7zM5 204h2v3h-2zM89 109h7v4h-7zM97 72h4v5h-4zM153 162h4v5h-4zM366 110l3 2l-3 6l-3 -2zM273 209h4v4h-4zM245 200l3 -2l1 2l-3 2zM111 180l3 5l-2 1l-3 -5zM201 56h2v4h-2zM207 92l5 5l-3 3l-5 -5zM215 172l1 -1l4 2l-1 1zM282 199l1 1l-2 3l-1 -1zM76 61l2 3l-2 1l-2 -3zM352 225l2 3l-3 2l-2 -3zM126 77l2 2l-3 3l-2 -2zM15 68h6v4h-6zM54 141h5v4h-5zM119 53h2v3h-2zM183 204h3v3h-3zM399 173l4 -6l1 1l-4 6zM187 215h4v3h-4zM369 211l1 -1l5 5l-1 1zM134 82l3 -3l2 2l-3 3zM190 96l1 -1l3 5l-1 1zM63 64h4v3h-4zM376 196l2 -1l2 3l-2 1zM392 197h3v7h-3zM63 95l1 -1l2 2l-1 1zM77 59l1 1l-3 2l-1 -1zM110 83l3 -2l2 4l-3 2zM157 118l2 3l-6 3l-2 -3zM77 158l2 -3l6 4l-2 3zM98 65h2v6h-2zM164 196l1 -2l3 2l-1 2zM210 108h5v3h-5zM216 204l1 -2l6 4l-1 2zM250 122l3 -3l2 2l-3 3zM180 153l2 1l-2 4l-2 -1zM124 129h6v4h-6zM302 203h7v3h-7zM25 126l3 3l-2 2l-3 -3zM167 179l1 -2l3 2l-1 2zM144 56h6v2h-6zM222 94h4v2h-4zM300 146l2 2l-3 3l-2 -2zM257 158l2 -2l3 3l-2 2zM173 191l5 -3l1 1l-5 3zM54 60l3 -1l1 2l-3 1zM192 140l3 2l-2 4l-3 -2zM199 84l1 -1l2 2l-1 1zM337 56h5v4h-5zM277 119l1 1l-5 5l-1 -1zM179 223l2 -1l1 2l-2 1zM248 84l2 2l-4 4l-2 -2zM43 145l4 -2l1 1l-4 2zM52 201l2 -2l5 5l-2 2zM113 114l4 6l-3 2l-4 -6zM132 185h3v6h-3zM369 112l3 3l-3 3l-3 -3zM201 133l3 -2l3 5l-3 2zM42 201l5 3l-1 1l-5 -3zM386 69l1 2l-6 4l-1 -2zM278 86l2 -2l2 2l-2 2zM116 211h4v4h-4zM347 100h2v3h-2zM24 137h6v3h-6zM60 183l3 2l-1 2l-3 -2zM183 157l2 -4l3 2l-2 4zM197 182l2 1l-1 3l-2 -1zM316 159l3 2l-2 3l-3 -2zM195 61l4 6l-2 1l-4 -6zM166 77l1 -1l2 2l-1 1zM316 125h6v4h-6zM127 102h3v2h-3zM214 206h3v6h-3zM374 162h5v4h-5zM298 90l1 -2l3 2l-1 2zM184 90l3 3l-4 4l-3 -3zM209 57l1 -1l2 3l-1 1zM280 224l3 -3l2 2l-3 3zM30 111l6 3l-1 2l-6 -3zM120 107h2v5h-2zM100 69l6 4l-1 1l-6 -4zM121 201l4 2l-1 2l-4 -2zM357 61h3v6h-3zM243 122l2 2l-5 5l-2 -2zM113 199h3v3h-3zM16 61h5v4h-5zM206 76h2v7h-2zM84 220l3 -2l1 2l-3 2zM68 69l2 4l-1 1l-2 -4zM214 136l2 3l-5 3l-2 -3zM328 69l3 3l-4 4l-3 -3zM76 63h5v4h-5zM286 175l1 3l-5 3l-1 -3zM128 110l3 2l-1 2l-3 -2zM269 187l1 -1l1 3l-1 1zM96 125l3 -5l2 1l-3 5zM38 63l2 2l-2 2l-2 -2zM17 97l1 -1l3 3l-1 1zM195 70h5v3h-5zM190 143l2 -2l3 3l-2 2zM307 63l2 -1l2 4l-2 1zM186 113l4 -2l1 2l-4 2zM261 59h3v3h-3zM280 199l5 3l-1 2l-5 -3zM308 117l2 -4l3 2l-2 4zM192 162l2 2l-4 4l-2 -2zM211 182h6v2h-6zM226 169h7v4h-7zM188 61l2 -2l2 2l-2 2zM230 124l1 -1l3 3l-1 1zM297 207l3 -3l3 3l-3 3zM203 211l1 -2l6 4l-1 2zM63 175l2 3l-4 2l-2 -3zM181 78l5 -5l1 1l-5 5zM143 124l3 -3l1 1l-3 3zM293 157h7v4h-7zM207 123h5v3h-5zM113 103l3 -3l2 2l-3 3zM394 143l5 3l-2 3l-5 -3zM49 159l4 -2l2 3l-4 2zM171 170h5v2h-5zM161 171l1 -2l2 1l-1 2zM45 71l1 -1l3 3l-1 1zM6 106l3 3l-2 2l-3 -3zM143 182l4 -6l1 1l-4 6zM141 81l2 1l-3 5l-2 -1zM120 195l3 2l-1 2l-3 -2zM153 147h7v2h-7zM64 206l5 -3l2 3l-5 3zM273 183h6v4h-6zM362 162l6 4l-2 3l-6 -4zM340 169l3 3l-3 3l-3 -3zM220 87l2 -4l2 1l-2 4zM269 96h4v5h-4zM159 225l1 -2l3 2l-1 2zM214 90l3 -1l3 5l-3 1zM335 208l2 -2l5 5l-2 2zM194 195l2 -3l5 3l-2 3zM48 217l3 -2l2 3l-3 2zM229 122l3 -3l2 2l-3 3zM41 146h2v4h-2zM35 219l2 3l-4 2l-2 -3zM14 161l1 2l-6 4l-1 -2zM80 114h6v3h-6zM252 214l5 -5l1 1l-5 5zM290 138h7v4h-7zM294 85l2 2l-2 2l-2 -2zM59 225l3 -3l2 2l-3 3zM17 207l2 3l-3 2l-2 -3zM184 129l4 -2l1 2l-4 2zM134 214l2 1l-1 2l-2 -1zM80 127h2v4h-2zM218 203l1 2l-2 1l-1 -2zM196 100l3 3l-3 3l-3 -3zM177 109l1 1l-5 3l-1 -1zM149 212l2 3l-6 4l-2 -3zM252 135l2 2l-2 2l-2 -2zM135 61h3v7h-3zM158 54h2v4h-2zM391 172h4v7h-4zM361 216h3v7h-3zM325 110h3v3h-3zM166 209l3 3l-1 1l-3 -3zM18 203l5 5l-3 3l-5 -5zM64 107l2 2l-2 2l-2 -2zM210 135l2 1l-2 4l-2 -1zM160 197l2 3l-2 1l-2 -3zM225 69h6v2h-6zM268 175l2 -1l3 5l-2 1zM101 84h2v4h-2zM205 108l1 2l-4 2l-1 -2zM106 135l3 -2l2 3l-3 2zM139 169l2 4l-2 1l-2 -4zM181 224h6v2h-6zM388 99l2 2l-2 2l-2 -2zM275 95l2 -2l5 5l-2 2zM61 183l1 -1l3 3l-1 1zM139 59l2 -4l2 1l-2 4zM236 148h6v4h-6zM199 149l5 3l-1 2l-5 -3zM208 211l4 6l-3 2l-4 -6zM314 150h4v5h-4zM314 201h3v4h-3zM315 203h3v6h-3zM27 168l2 -3l3 2l-2 3zM7 78l3 3l-5 5l-3 -3zM277 156l1 1l-3 6l-1 -1zM177 129l2 -3l3 2l-2 3zM44 124l3 3l-1 1l-3 -3zM31 183l1 -2l5 3l-1 2zM257 224l2 -2l5 5l-2 2zM229 131h7v3h-7zM315 86l1 3l-3 1l-1 -3zM252 223l6 4l-1 3l-6 -4zM47 125l3 2l-3 6l-3 -2zM331 206l2 -1l3 5l-2 1zM311 141l3 -5l3 2l-3 5zM175 151h5v2h-5zM323 84h5v2h-5zM74 149l2 2l-4 4l-2 -2zM134 122h3v4h-3zM126 191h2v3h-2zM14 80h3v5h-3zM201 110h2v5h-2zM235 226h4v2h-4zM317 109h3v4h-3zM281 191h4v3h-4zM261 101l5 3l-1 2l-5 -3zM358 221h2v3h-2zM36 169h2v7h-2zM308 85l1 -2l6 3l-1 2zM377 110h4v6h-4zM358 197h3v2h-3zM340 101h5v3h-5zM372 82l2 2l-3 3l-2 -2zM34 211h3v5h-3zM57 113l2 3l-2 1l-2 -3zM241 175h5v4h-5zM96 155h7v3h-7zM103 76h5v2h-5zM168 218l1 1l-2 1l-1 -1zM226 90l4 3l-1 2l-4 -3zM198 127h4v6h-4zM397 224l3 2l-4 6l-3 -2zM363 221l2 2l-2 2l-2 -2zM268 112l2 -2l2 2l-2 2zM179 138h5v4h-5zM291 54l1 3l-2 1l-1 -3zM15 195h6v2h-6zM339 77h4v5h-4zM219 86l3 2l-1 2l-3 -2zM40 58h3v4h-3zM381 213l2 3l-3 2l-2 -3zM63 225l3 2l-1 2l-3 -2zM97 179h4v3h-4zM267 102h2v4h-2zM392 153l3 2l-2 3l-3 -2zM154 103l1 2l-3 2l-1 -2zM164 154l2 3l-6 3l-2 -3zM119 173l2 -2l5 5l-2 2zM226 78l1 -3l6 4l-1 3zM196 135l3 -3l2 2l-3 3zM349 202l3 2l-1 2l-3 -2zM342 59h7v2h-7zM279 117h2v7h-2zM288 127h3v3h-3zM265 102l3 6l-3 2l-3 -6zM69 73l2 2l-2 2l-2 -2zM387 163h5v2h-5zM87 188h5v2h-5zM381 150h7v3h-7zM160 182l6 -4l1 2l-6 4zM341 102l2 2l-3 3l-2 -2zM60 75l3 -4l2 1l-3 4zM222 104h7v3h-7zM39 130l1 -2l6 3l-1 2zM12 226l2 2l-4 4l-2 -2zM4 92h2v7h-2zM160 210l3 5l-3 2l-3 -5zM298 80l2 3l-3 2l-2 -3zM212 125h7v3h-7zM145 213h6v2h-6zM189 76l2 -2l4 4l-2 2zM372 122h6v3h-6zM319 164l2 -3l4 2l-2 3zM391 183l5 -5l2 2l-5 5zM199 158h7v2h-7zM184 61h2v7h-2zM181 119l1 -3l3 2l-1 3zM177 220l1 -3l6 4l-1 3zM397 77l2 2l-2 2l-2 -2zM106 219l4 4l-2 2l-4 -4z"/>
<path fill="#f1d46a" d="M318 182h6v3h-6zM81 135l2 -2l5 5l-2 2zM93 223h4v3h-4zM201 177h2v3h-2zM16 225l1 2l-4 2l-1 -2zM53 162l2 -3l5 3l-2 3zM181 201l3 -3l3 3l-3 3zM216 217l1 -3l5 3l-1 3zM28 65l1 -1l3 3l-1 1zM9 150l3 -5l3 2l-3 5zM187 224l2 -4l1 1l-2 4zM235 177h6v2h-6zM189 104h4v2h-4z"/>
<path fill="#e38aa0" d="M380 69h3v6h-3zM215 92h2v7h-2zM299 131l5 5l-2 2l-5 -5zM296 106l3 5l-2 1l-3 -5zM325 120h3v4h-3zM112 138h2v3h-2zM69 224l5 5l-2 2l-5 -5z"/>
</g>
<!-- dark band -->
<path d="M0,228 Q40,232 90,226 Q130,230 170,226 Q200,232 240,228 Q300,232 345,228 L391.5,224 L420,250 L420,258 L330,254 Q300,250 270,252 Q230,256 190,251 Q150,256 100,251 Q60,254 0,252 Z" fill="#2e5a50"/>
<polygon points="391.5,222 420,244 420,252 395,228" fill="#8fc95b"/>
<!-- lower blurred pile -->
<g filter="url(#bl6)">
<polygon points="38.5,256 80,252 120,255 170,251 220,254 260,250 300,254 360,252 361.3,327.6 38.5,327.6" fill="#dde6ee"/>
<g clip-path="url(#l6)">
<path fill="#cfc4c5" d="M54 258l1 1l-4 7l-1 -1zM189 278h4v2h-4zM42 319h2v6h-2zM167 279l2 3l-5 3l-2 -3zM318 262h7v3h-7zM100 324l2 -3l5 3l-2 3zM276 312l4 -7l2 1l-4 7zM288 302h3v5h-3zM204 285l4 4l-1 1l-4 -4zM239 267l4 2l-2 3l-4 -2zM122 270l7 -4l1 2l-7 4zM186 258h6v2h-6zM236 253l3 -2l3 5l-3 2zM358 304l2 -4l1 1l-2 4zM269 307h4v3h-4zM108 267h9v2h-9zM227 297l2 -2l2 2l-2 2zM334 319l3 2l-3 5l-3 -2zM57 263l1 1l-3 5l-1 -1zM189 280l4 3l-1 2l-4 -3zM207 327l7 -4l1 3l-7 4zM214 295l1 2l-7 4l-1 -2zM215 307l3 -2l3 4l-3 2zM314 326h9v4h-9zM194 321h4v4h-4zM105 270l4 -3l1 2l-4 3zM361 325l1 -2l5 3l-1 2zM285 302l2 -1l3 6l-2 1zM197 313l3 2l-3 5l-3 -2zM113 276h3v6h-3zM190 253l3 2l-3 5l-3 -2zM120 326l2 -3l7 4l-2 3zM103 312l4 -4l3 3l-4 4zM319 270l4 -7l2 1l-4 7zM258 323l2 -3l4 2l-2 3zM335 266h2v5h-2zM94 256l3 -2l4 7l-3 2zM351 312l5 -5l2 2l-5 5zM142 323l2 -1l3 5l-2 1zM290 261l4 7l-2 1l-4 -7zM295 325l6 6l-1 1l-6 -6zM86 299l2 -2l6 6l-2 2zM346 326l5 5l-2 2l-5 -5zM338 299l6 6l-2 2l-6 -6zM161 293l1 2l-8 4l-1 -2zM344 318l8 4l-1 3l-8 -4zM182 275l4 4l-2 2l-4 -4zM246 320h2v6h-2zM210 282l3 -3l1 1l-3 3zM169 257l4 -4l2 2l-4 4zM82 259l3 3l-6 6l-3 -3zM111 311h3v3h-3zM55 280h9v3h-9zM261 299l1 1l-5 3l-1 -1zM288 284h4v8h-4zM327 262h6v2h-6zM116 272l2 2l-5 5l-2 -2zM111 279l3 5l-2 1l-3 -5zM183 268h6v2h-6zM60 254l1 2l-7 4l-1 -2zM151 266l2 -1l4 7l-2 1zM297 316l1 -2l6 4l-1 2zM338 295l3 -2l2 3l-3 2zM222 253h3v5h-3zM43 271h5v2h-5zM168 320l2 1l-2 4l-2 -1zM123 263h3v7h-3zM202 293l4 2l-1 3l-4 -2zM66 293h4v5h-4zM61 294l3 -2l4 7l-3 2zM62 297h2v8h-2zM198 293l1 -1l3 2l-1 1zM333 317l7 -4l1 2l-7 4zM302 308l2 3l-5 3l-2 -3zM166 298l3 2l-2 3l-3 -2zM254 268l1 -1l3 3l-1 1zM85 282h4v8h-4zM251 294l3 -3l3 3l-3 3zM354 290l5 3l-2 3l-5 -3zM93 298l3 -2l2 4l-3 2zM176 307l2 -2l5 5l-2 2zM88 293l4 -2l2 3l-4 2zM252 299l3 -5l3 2l-3 5zM187 289l4 -2l2 3l-4 2zM136 319l5 5l-2 2l-5 -5zM310 307h4v3h-4zM124 252l3 -2l1 2l-3 2zM96 256l3 3l-2 2l-3 -3zM190 304h6v2h-6zM203 286l1 -2l3 2l-1 2zM294 269l6 6l-2 2l-6 -6zM318 310l3 5l-1 1l-3 -5zM57 312l2 -2l5 5l-2 2zM357 319l4 7l-3 2l-4 -7zM294 274h4v8h-4zM116 251h9v2h-9zM240 316h4v7h-4zM272 275h2v4h-2zM84 296h6v3h-6zM282 292h2v5h-2zM291 286h5v2h-5zM350 312h7v2h-7zM216 310h3v6h-3zM41 296l2 -3l4 2l-2 3zM327 307l2 -2l4 4l-2 2zM186 279l3 2l-2 3l-3 -2zM190 290l3 6l-3 2l-3 -6zM120 324l1 -2l7 4l-1 2zM271 263h2v6h-2zM94 322l2 2l-5 5l-2 -2zM95 262l1 -3l6 3l-1 3zM353 295l3 -2l1 2l-3 2zM63 322h3v7h-3zM91 263h3v6h-3zM303 279h3v4h-3zM79 264l2 1l-3 5l-2 -1zM39 270l2 -3l3 2l-2 3zM228 320l3 3l-3 3l-3 -3zM203 297l5 -3l1 2l-5 3zM265 255l4 2l-2 3l-4 -2zM210 307l1 -1l3 3l-1 1zM317 299l5 -5l2 2l-5 5zM264 316l1 1l-4 7l-1 -1zM51 284l1 2l-7 4l-1 -2zM128 303l1 1l-2 4l-1 -1zM146 295l3 6l-3 2l-3 -6zM306 320h3v5h-3zM164 324l8 -4l1 2l-8 4zM119 326l3 2l-4 8l-3 -2zM53 309l3 2l-3 5l-3 -2zM67 273l2 3l-6 3l-2 -3zM356 310h2v7h-2zM255 314l3 -2l2 3l-3 2zM60 252h4v3h-4zM190 277l6 -6l2 2l-6 6zM235 302h4v2h-4zM188 260l2 2l-6 6l-2 -2zM177 259h3v2h-3zM338 310l3 -2l3 4l-3 2zM73 307l3 2l-4 8l-3 -2zM333 312l3 3l-5 5l-3 -3zM147 265l2 4l-2 1l-2 -4zM73 321l5 3l-1 3l-5 -3zM151 304l1 -2l4 2l-1 2zM110 312l1 3l-4 2l-1 -3zM46 262l2 3l-2 1l-2 -3zM79 262l7 -4l2 3l-7 4zM298 317l1 2l-6 4l-1 -2zM153 259l5 5l-1 1l-5 -5zM124 323l4 -4l3 3l-4 4zM271 274h5v4h-5zM86 290l3 2l-4 7l-3 -2zM259 288l4 -4l1 1l-4 4zM116 257h2v3h-2zM294 299h6v4h-6zM100 257h2v3h-2zM189 305h3v3h-3zM211 323l7 -4l1 1l-7 4zM67 255l2 -2l3 3l-2 2zM248 252l5 5l-1 1l-5 -5z"/>
<path fill="#b9abac" d="M232 326l4 7l-2 1l-4 -7zM61 305h5v2h-5zM301 296l2 -3l4 2l-2 3zM355 291h8v3h-8zM124 314l3 -5l2 1l-3 5zM175 323l2 1l-3 5l-2 -1zM316 256h8v3h-8zM348 294l3 5l-3 1l-3 -5zM82 254l2 -1l4 7l-2 1zM157 327l2 1l-2 3l-2 -1zM144 301l1 -2l3 2l-1 2zM290 251l3 3l-5 5l-3 -3zM276 273l3 -2l2 3l-3 2zM251 264l2 3l-2 1l-2 -3zM222 287h3v3h-3zM249 266h3v6h-3zM337 271h5v4h-5zM121 313l3 -3l3 3l-3 3zM280 277l2 3l-3 2l-2 -3zM242 309h3v8h-3zM206 275l4 2l-1 1l-4 -2zM144 313h8v2h-8zM42 291l4 -2l2 3l-4 2zM189 311h3v7h-3zM240 288h2v5h-2zM70 257l2 1l-2 4l-2 -1zM273 324l5 3l-2 3l-5 -3zM182 307h4v9h-4zM222 322h4v4h-4zM122 260h3v6h-3zM239 295h8v2h-8zM160 253l3 3l-2 2l-3 -3zM166 326h4v5h-4zM320 287h2v3h-2zM146 270l3 -6l2 1l-3 6zM93 306l5 3l-2 3l-5 -3zM211 262l6 4l-1 2l-6 -4zM307 258h2v7h-2zM353 281l4 -7l3 2l-4 7zM321 276l2 -2l4 4l-2 2zM299 307l2 1l-2 3l-2 -1zM342 304h4v2h-4zM157 281h7v4h-7zM361 270h4v6h-4zM214 256l3 5l-2 1l-3 -5zM264 260l3 2l-1 1l-3 -2zM265 260h2v7h-2zM337 324l6 3l-2 3l-6 -3zM342 270h4v4h-4zM316 297h4v5h-4zM117 306l4 8l-1 1l-4 -8zM193 318l3 -2l4 6l-3 2zM312 296l1 1l-4 4l-1 -1zM219 260l5 -5l2 2l-5 5zM330 304l1 -1l5 3l-1 1zM55 283l3 2l-4 7l-3 -2zM287 252h3v7h-3zM126 307l7 -4l2 3l-7 4zM312 252h2v5h-2zM254 314l1 2l-6 3l-1 -2zM222 306l2 2l-3 3l-2 -2zM203 257l6 4l-1 2l-6 -4zM329 326l3 -2l4 6l-3 2zM87 263l3 2l-4 7l-3 -2zM137 285h8v3h-8zM214 257h4v3h-4zM269 315h3v2h-3zM95 293h4v7h-4zM332 309h3v8h-3zM105 303l2 -3l6 4l-2 3zM49 281h3v6h-3zM110 309h2v7h-2zM358 307h3v8h-3zM56 296h3v2h-3zM148 286l2 1l-3 5l-2 -1zM274 301h3v9h-3zM333 317h5v2h-5zM294 252h5v3h-5zM289 294l6 -4l1 2l-6 4zM280 289l1 -2l8 4l-1 2zM217 289l1 -2l5 3l-1 2zM337 253h7v3h-7zM159 312l3 5l-2 1l-3 -5zM89 305l4 -4l1 1l-4 4zM279 264l6 -6l3 3l-6 6zM310 260l2 -2l4 4l-2 2zM68 271l3 5l-2 1l-3 -5zM143 286l2 -1l3 5l-2 1zM303 324h8v2h-8zM93 278h6v2h-6zM353 255l2 2l-3 3l-2 -2zM206 304l3 -5l3 2l-3 5zM250 314l4 -4l1 1l-4 4zM154 305l3 -6l1 1l-3 6zM286 263h5v2h-5zM266 309h6v2h-6zM285 322h3v4h-3zM272 279l2 2l-5 5l-2 -2zM226 269l2 2l-5 5l-2 -2zM147 316l2 4l-3 2l-2 -4zM91 266h5v2h-5zM72 321l2 3l-2 1l-2 -3zM333 325h6v3h-6zM321 304l3 -3l2 2l-3 3zM353 284l3 -2l3 4l-3 2zM137 296l1 1l-3 3l-1 -1zM244 323l2 3l-8 4l-2 -3zM226 320h4v9h-4zM231 285l2 2l-5 5l-2 -2zM39 255l1 -1l4 7l-1 1zM242 273h3v3h-3zM60 279h4v7h-4zM164 285l2 -2l3 3l-2 2zM186 306l4 4l-3 3l-4 -4zM112 272l4 -6l3 2l-4 6zM46 252l5 5l-2 2l-5 -5zM309 255l1 2l-5 3l-1 -2zM211 264h2v4h-2zM261 321h3v5h-3zM225 298l3 5l-2 1l-3 -5zM141 272l3 -6l2 1l-3 6zM135 255h5v4h-5zM244 291l3 5l-2 1l-3 -5zM211 291l5 5l-3 3l-5 -5zM202 264l5 -3l2 3l-5 3zM62 303l4 2l-1 2l-4 -2zM244 317h4v2h-4zM132 279h5v3h-5zM324 304l2 2l-4 4l-2 -2zM157 265l1 1l-7 4l-1 -1zM229 302l3 3l-3 3l-3 -3zM98 297h4v3h-4zM156 271l2 -4l3 2l-2 4zM58 275h2v5h-2zM220 306h2v5h-2zM206 302l2 -1l3 6l-2 1zM238 300l4 4l-2 2l-4 -4zM76 304h6v4h-6zM94 275l1 1l-4 4l-1 -1zM348 295l6 -4l1 3l-6 4zM55 276h2v4h-2zM157 321l2 -4l3 2l-2 4zM276 307l6 -6l1 1l-6 6zM226 292h3v4h-3zM287 269l1 -2l3 2l-1 2zM228 326l1 1l-3 3l-1 -1zM337 269h3v8h-3zM281 301h6v3h-6zM177 324l8 4l-2 3l-8 -4zM256 256l1 -1l6 6l-1 1zM175 291h6v3h-6zM194 268h2v8h-2zM239 312h4v3h-4zM191 315l5 -5l3 3l-5 5zM320 318l3 2l-4 6l-3 -2zM146 266l4 7l-2 1l-4 -7zM210 306h3v2h-3zM199 283l2 1l-4 8l-2 -1zM97 277h5v2h-5zM311 310h2v7h-2zM197 258l6 -6l1 1l-6 6zM286 255h2v5h-2zM346 284l4 -4l2 2l-4 4zM212 319l2 3l-5 3l-2 -3zM176 307l2 2l-3 3l-2 -2zM341 253h6v3h-6zM232 281l2 4l-2 1l-2 -4zM101 252l3 3l-2 2l-3 -3zM324 326l1 1l-5 3l-1 -1zM337 264l2 -3l5 3l-2 3zM231 252h4v4h-4zM126 318h4v3h-4zM288 325h5v4h-5zM222 292h2v3h-2zM46 253l4 -2l2 3l-4 2zM353 269l1 1l-4 7l-1 -1zM312 303l2 -2l3 3l-2 2zM152 301l4 -8l3 2l-4 8zM127 252l1 1l-3 3l-1 -1zM251 303l2 -3l4 2l-2 3zM238 286l4 -6l1 1l-4 6zM149 283l4 4l-2 2l-4 -4zM233 301l1 -1l3 2l-1 1zM297 304l2 -4l2 1l-2 4zM230 316h3v5h-3zM95 254l3 -5l2 1l-3 5zM103 309l4 -4l2 2l-4 4zM269 292l3 -2l3 5l-3 2zM309 325l2 -3l4 2l-2 3zM306 319l1 2l-6 4l-1 -2zM75 303l2 -2l5 5l-2 2zM169 324l2 3l-6 3l-2 -3zM206 318h3v9h-3zM347 291h4v5h-4zM335 275h8v3h-8zM270 324l5 -5l3 3l-5 5zM277 285l1 -1l4 2l-1 1zM220 313l1 2l-4 3l-1 -2zM353 263h8v2h-8zM290 309h8v3h-8zM69 304l3 -5l2 1l-3 5zM157 254h8v4h-8zM38 271l3 -2l4 8l-3 2zM270 280h8v4h-8zM92 293h2v5h-2zM99 294l1 1l-3 4l-1 -1zM357 316l3 -5l3 2l-3 5zM250 252l2 -4l2 1l-2 4zM195 319h2v6h-2zM329 291l2 1l-4 6l-2 -1zM172 325l3 2l-4 8l-3 -2zM326 308l3 3l-4 4l-3 -3zM254 268l2 -2l3 3l-2 2zM195 296l5 -5l1 1l-5 5zM351 307h4v6h-4zM322 326h7v2h-7zM323 296l6 -6l1 1l-6 6zM224 251h2v4h-2zM195 282l5 3l-1 2l-5 -3zM84 295h6v4h-6z"/>
<path fill="#9c8f90" d="M350 286l2 2l-3 3l-2 -2zM77 252l2 1l-3 6l-2 -1zM171 283l2 2l-3 3l-2 -2zM313 271l1 -1l3 5l-1 1zM243 281h5v3h-5zM162 283h3v9h-3zM322 267h4v4h-4zM220 306h5v4h-5zM196 258h3v8h-3zM94 274l8 4l-1 2l-8 -4zM240 317h6v3h-6zM103 256h4v7h-4zM57 254l1 -2l7 4l-1 2zM154 276h3v8h-3zM102 290h3v5h-3zM322 308l2 -1l2 4l-2 1zM234 324h2v7h-2zM75 255h7v3h-7zM355 272l3 -3l1 1l-3 3zM194 282l1 1l-4 7l-1 -1zM55 281l2 -2l5 5l-2 2zM335 260l3 2l-2 3l-3 -2zM162 259h6v4h-6zM252 309h4v4h-4zM301 297l4 4l-2 2l-4 -4zM238 298l6 -6l1 1l-6 6zM299 256l1 2l-3 2l-1 -2zM174 284l6 -6l2 2l-6 6zM308 324h2v8h-2zM356 325l7 4l-1 2l-7 -4zM128 320l1 2l-7 4l-1 -2zM85 288h8v3h-8zM100 314h4v4h-4zM162 297l4 2l-1 2l-4 -2zM123 319h4v3h-4zM237 303l4 8l-3 2l-4 -8zM129 252h2v6h-2zM104 298h6v4h-6zM136 279h3v6h-3zM43 278h8v2h-8zM304 258h3v7h-3zM250 288l3 -3l2 2l-3 3zM354 325l2 4l-2 1l-2 -4zM256 300l3 -3l2 2l-3 3zM115 321l2 -3l5 3l-2 3zM333 326l6 -3l1 2l-6 3zM92 284h7v2h-7zM108 274l3 -3l4 4l-3 3zM320 306l1 1l-3 4l-1 -1zM259 256l2 1l-4 7l-2 -1zM240 315h5v3h-5zM263 269l2 -4l2 1l-2 4zM310 292l7 -4l1 2l-7 4zM325 280l2 1l-2 4l-2 -1zM284 297l2 -2l2 2l-2 2zM317 272h8v2h-8zM209 275l4 -6l3 2l-4 6zM152 275l3 -5l3 2l-3 5zM355 327l2 3l-7 4l-2 -3zM182 257h3v9h-3zM58 294l2 -4l2 1l-2 4zM87 294l2 -3l6 4l-2 3zM92 274l3 -1l2 4l-3 1zM312 253l2 -4l2 1l-2 4zM204 290h6v2h-6zM101 300l3 -3l2 2l-3 3zM221 313l7 -4l2 3l-7 4zM113 251h2v7h-2zM189 261l2 1l-3 5l-2 -1zM297 259l2 -2l6 6l-2 2zM315 322h2v4h-2zM200 261h3v3h-3zM40 251h4v4h-4zM49 268l2 1l-2 4l-2 -1zM304 286l4 2l-1 2l-4 -2zM79 310h7v4h-7zM56 289l1 -2l4 2l-1 2zM260 266h4v7h-4zM61 292h5v4h-5zM91 289h2v4h-2zM357 309l5 -5l2 2l-5 5zM120 318l2 -4l3 2l-2 4zM356 278l6 -6l1 1l-6 6zM321 265l1 -1l4 6l-1 1zM205 279l3 -6l3 2l-3 6zM129 271h2v6h-2zM62 285l4 4l-1 1l-4 -4zM169 319l2 2l-3 3l-2 -2zM225 312h3v6h-3zM117 290l4 2l-2 3l-4 -2zM147 318l3 -3l3 3l-3 3zM224 302h3v4h-3zM126 290h3v3h-3zM237 299h7v2h-7zM303 267l2 1l-4 7l-2 -1zM149 254l2 1l-3 5l-2 -1zM262 289l2 3l-3 2l-2 -3zM310 282h4v3h-4zM196 257h9v2h-9zM106 262l3 -5l2 1l-3 5zM273 308l2 3l-3 2l-2 -3zM266 327l3 2l-1 2l-3 -2zM349 252l2 3l-2 1l-2 -3zM252 269l1 1l-2 4l-1 -1zM293 255l3 5l-2 1l-3 -5zM117 294l2 2l-4 4l-2 -2zM361 326h8v2h-8zM43 307l2 1l-3 5l-2 -1zM186 277l2 -2l6 6l-2 2zM77 300h7v3h-7zM333 325l4 -7l2 1l-4 7zM198 265h5v3h-5zM182 304l2 -2l5 5l-2 2zM41 277l2 -4l2 1l-2 4zM333 285h4v3h-4zM231 277l5 -3l1 2l-5 3zM217 256l4 -2l2 3l-4 2zM242 306l3 3l-1 1l-3 -3zM179 323l2 3l-2 1l-2 -3zM315 284l5 5l-2 2l-5 -5zM149 253l6 4l-1 2l-6 -4zM203 283h8v2h-8zM270 252h2v4h-2zM109 316l1 -1l2 3l-1 1zM256 263l5 3l-1 2l-5 -3zM68 283l1 2l-4 2l-1 -2zM356 283h4v6h-4zM39 273l1 -2l4 2l-1 2zM296 276l4 -4l2 2l-4 4zM303 287l3 -2l3 6l-3 2zM216 263h6v4h-6zM209 314l3 -2l4 8l-3 2zM269 271l3 -2l1 2l-3 2zM117 290l4 -7l3 2l-4 7zM336 291h7v4h-7zM118 265h3v6h-3zM73 309l6 -6l1 1l-6 6zM279 267l1 -2l6 3l-1 2zM327 279l4 4l-2 2l-4 -4zM271 274l3 -1l3 5l-3 1zM191 328h6v2h-6zM278 325h2v4h-2z"/>
<path fill="#5f6064" d="M123 288l2 4l-2 1l-2 -4zM295 285l3 3l-3 3l-3 -3zM152 304l1 -2l3 2l-1 2zM47 286l2 -4l1 1l-2 4zM121 327l3 -3l3 3l-3 3zM275 268h3v4h-3zM217 317l5 3l-2 3l-5 -3zM45 286h3v8h-3zM50 271l4 -2l1 2l-4 2zM352 275h4v3h-4zM358 324l7 4l-1 2l-7 -4zM241 275l5 3l-1 2l-5 -3zM253 298l1 -3l6 3l-1 3zM290 268l3 2l-3 5l-3 -2zM330 296l3 2l-3 4l-3 -2zM40 321h4v8h-4zM92 304h6v2h-6zM339 271l2 -2l3 3l-2 2zM52 253l3 -3l3 3l-3 3zM69 300l2 3l-3 2l-2 -3zM182 257l6 3l-1 2l-6 -3zM234 250l3 2l-2 3l-3 -2zM303 256h3v2h-3zM278 296l1 -1l6 6l-1 1zM318 313h6v3h-6zM42 277h5v2h-5zM125 305l6 -4l1 1l-6 4zM61 290h8v3h-8zM238 251h2v7h-2zM54 266l3 2l-3 5l-3 -2zM49 310h3v9h-3zM302 282l3 2l-2 3l-3 -2zM103 256h7v3h-7zM156 306l3 2l-3 6l-3 -2zM82 271l2 -2l4 4l-2 2zM93 309h3v4h-3zM231 256l2 3l-2 1l-2 -3zM101 312h2v7h-2zM198 251h3v9h-3zM252 283l2 3l-2 1l-2 -3zM229 273h4v4h-4zM318 279h5v3h-5zM122 294h3v5h-3zM85 312h2v4h-2zM200 258l3 2l-4 7l-3 -2zM323 257l2 -1l2 4l-2 1zM277 258l3 -4l3 2l-3 4zM278 313l7 4l-2 3l-7 -4zM233 264l2 3l-7 4l-2 -3zM86 299l4 -2l1 2l-4 2zM344 259l4 -4l2 2l-4 4zM287 262l4 -3l1 2l-4 3zM281 256l4 -7l2 1l-4 7zM227 297h7v3h-7zM275 315l3 2l-4 6l-3 -2zM196 292h2v7h-2zM196 299l5 3l-2 3l-5 -3zM332 277l1 2l-4 2l-1 -2zM108 319l4 -4l3 3l-4 4zM292 299l3 4l-3 2l-3 -4zM104 261l3 6l-1 1l-3 -6zM95 264l8 -4l1 3l-8 4zM199 254l4 4l-1 1l-4 -4zM66 288l2 4l-1 1l-2 -4zM323 260l2 -3l3 2l-2 3zM112 298h5v4h-5zM323 251h9v3h-9zM342 323h3v4h-3zM75 327l2 -3l6 4l-2 3zM195 317l3 -5l3 2l-3 5zM170 309l1 1l-4 8l-1 -1zM130 305l3 5l-2 1l-3 -5zM356 276l2 2l-3 3l-2 -2zM111 270l1 -2l6 3l-1 2zM61 267l2 1l-3 5l-2 -1zM272 300h9v4h-9zM144 280h2v9h-2zM143 327l2 -2l5 5l-2 2zM115 295l2 -1l3 6l-2 1zM265 279l2 3l-2 1l-2 -3zM271 322l1 -2l7 4l-1 2zM272 328h7v2h-7zM208 326l4 -4l2 2l-4 4zM343 279h5v2h-5zM237 310l1 -2l6 3l-1 2zM58 260l4 7l-2 1l-4 -7zM66 270l2 4l-2 1l-2 -4zM214 317l2 1l-3 6l-2 -1zM71 265l2 2l-1 1l-2 -2zM268 323l3 -6l2 1l-3 6zM69 283l5 -3l1 2l-5 3zM248 321h4v7h-4zM199 273h9v3h-9zM214 283h3v3h-3zM245 304l6 -3l1 2l-6 3zM105 314l1 -2l4 2l-1 2zM208 272l3 -2l4 6l-3 2zM360 315l6 6l-2 2l-6 -6zM289 326h2v5h-2zM345 315l2 4l-1 1l-2 -4zM303 260l5 5l-3 3l-5 -5zM41 323h3v5h-3zM335 251h7v3h-7zM52 259l4 -4l2 2l-4 4zM284 291h2v7h-2z"/>
<path fill="#8b8283" d="M251 322l2 -2l3 3l-2 2zM123 310h4v6h-4zM162 289l3 2l-3 6l-3 -2zM155 315h7v3h-7zM128 303l2 -2l6 6l-2 2zM99 276l1 -1l4 4l-1 1zM115 258l2 3l-3 2l-2 -3zM95 274l6 -4l2 3l-6 4zM149 305l3 -2l2 3l-3 2zM95 296h3v8h-3zM103 299l3 -2l2 3l-3 2zM65 307l3 5l-2 1l-3 -5zM259 314l2 -2l2 2l-2 2zM106 263l3 -3l3 3l-3 3zM293 303l1 -2l5 3l-1 2zM166 310l2 2l-4 4l-2 -2zM204 291l2 3l-3 2l-2 -3zM328 296l4 -8l2 1l-4 8zM210 294l2 -3l3 2l-2 3zM247 308h3v5h-3zM355 289l5 -5l2 2l-5 5zM66 252l2 -4l3 2l-2 4zM97 265h8v2h-8zM153 307l4 4l-3 3l-4 -4zM93 302h3v7h-3zM91 300l4 -4l3 3l-4 4zM357 317l2 -3l2 1l-2 3zM204 255h2v6h-2zM209 310h2v8h-2zM84 294l2 -3l3 2l-2 3zM356 268l2 3l-3 2l-2 -3zM263 258l2 -3l2 1l-2 3zM360 322l2 3l-6 4l-2 -3zM324 259h3v4h-3zM58 327l3 -2l2 3l-3 2zM261 250l7 4l-1 2l-7 -4zM269 299h4v7h-4zM334 260l3 2l-2 3l-3 -2zM205 287l2 4l-3 1l-2 -4zM360 325l4 7l-2 1l-4 -7zM270 307l2 -4l3 2l-2 4zM334 293h4v4h-4zM277 272l1 -2l3 2l-1 2zM171 322h8v4h-8zM186 296h9v3h-9zM322 264l2 2l-5 5l-2 -2zM185 255h3v4h-3zM51 297h3v6h-3zM68 289h5v3h-5zM99 322h6v3h-6zM76 258h3v4h-3zM168 293l3 3l-4 4l-3 -3zM216 272l2 3l-5 3l-2 -3zM189 300l7 -4l2 3l-7 4zM153 288l1 1l-3 3l-1 -1zM109 290l3 -3l2 2l-3 3zM44 314h4v3h-4zM317 311h9v3h-9zM276 254l3 5l-2 1l-3 -5zM360 313h3v6h-3zM214 254l3 3l-2 2l-3 -3zM328 279h3v3h-3zM305 277l6 6l-3 3l-6 -6zM69 319l3 -2l3 6l-3 2zM110 305h3v7h-3zM178 285l2 4l-3 2l-2 -4zM158 257h6v2h-6zM69 282l4 -2l2 3l-4 2zM181 254l7 4l-1 1l-7 -4zM360 308l6 3l-2 3l-6 -3zM116 296h5v2h-5zM101 288h2v5h-2zM248 315h4v3h-4zM72 302l5 -5l2 2l-5 5zM40 278h4v8h-4zM219 253l4 4l-2 2l-4 -4zM259 269l3 6l-2 1l-3 -6zM185 277h2v8h-2zM149 255h3v9h-3zM90 251h2v8h-2zM324 319h6v4h-6zM239 303l5 -3l2 3l-5 3zM193 318h6v3h-6zM164 305h4v2h-4zM144 325l1 2l-5 3l-1 -2zM66 308l3 4l-3 1l-3 -4zM280 322l2 2l-3 3l-2 -2zM78 309h3v5h-3zM329 282l2 3l-3 1l-2 -3zM354 274l3 -5l3 2l-3 5zM249 291h6v3h-6zM260 255l4 2l-2 3l-4 -2zM176 252h5v3h-5zM112 259l1 1l-6 6l-1 -1zM114 315l4 4l-3 3l-4 -4zM319 269h8v3h-8zM286 269l1 -2l3 2l-1 2zM178 284h2v4h-2z"/>
<path fill="#e38aa0" d="M65 272l3 -6l3 2l-3 6zM268 318l3 -3l6 6l-3 3zM171 275l4 4l-2 2l-4 -4zM338 321l2 3l-5 3l-2 -3zM48 300l2 -2l3 3l-2 2zM351 294l2 3l-4 2l-2 -3zM286 259l2 -4l3 2l-2 4z"/>
<path fill="#6cb3a0" d="M293 314h4v2h-4zM161 319h2v8h-2zM307 297l2 1l-2 4l-2 -1zM209 258l7 4l-1 2l-7 -4zM235 312l1 1l-2 3l-1 -1zM63 281l6 -4l2 3l-6 4zM97 304l3 3l-2 2l-3 -3zM237 312l3 -2l4 7l-3 2z"/>
<path fill="#f1d46a" d="M284 253l2 3l-4 2l-2 -3zM304 306l4 6l-3 2l-4 -6zM165 282h5v3h-5zM126 259l2 -4l3 2l-2 4zM270 304l2 2l-5 5l-2 -2zM266 313l3 -2l2 3l-3 2zM67 285l3 -6l3 2l-3 6zM91 327l3 -5l1 1l-3 5zM267 278l2 -4l3 2l-2 4zM244 309l2 2l-3 3l-2 -2z"/>
</g></g>
<rect x="0" y="327.6" width="420" height="93" fill="#8fc95b"/>
</svg></div>
<div class="txt"><h2>排出</h2><p>細断古紙は、製紙原料会社のヤードでスムーズに排出され、製紙原料として再資源化されます。</p></div>
</div>

</body></html>
